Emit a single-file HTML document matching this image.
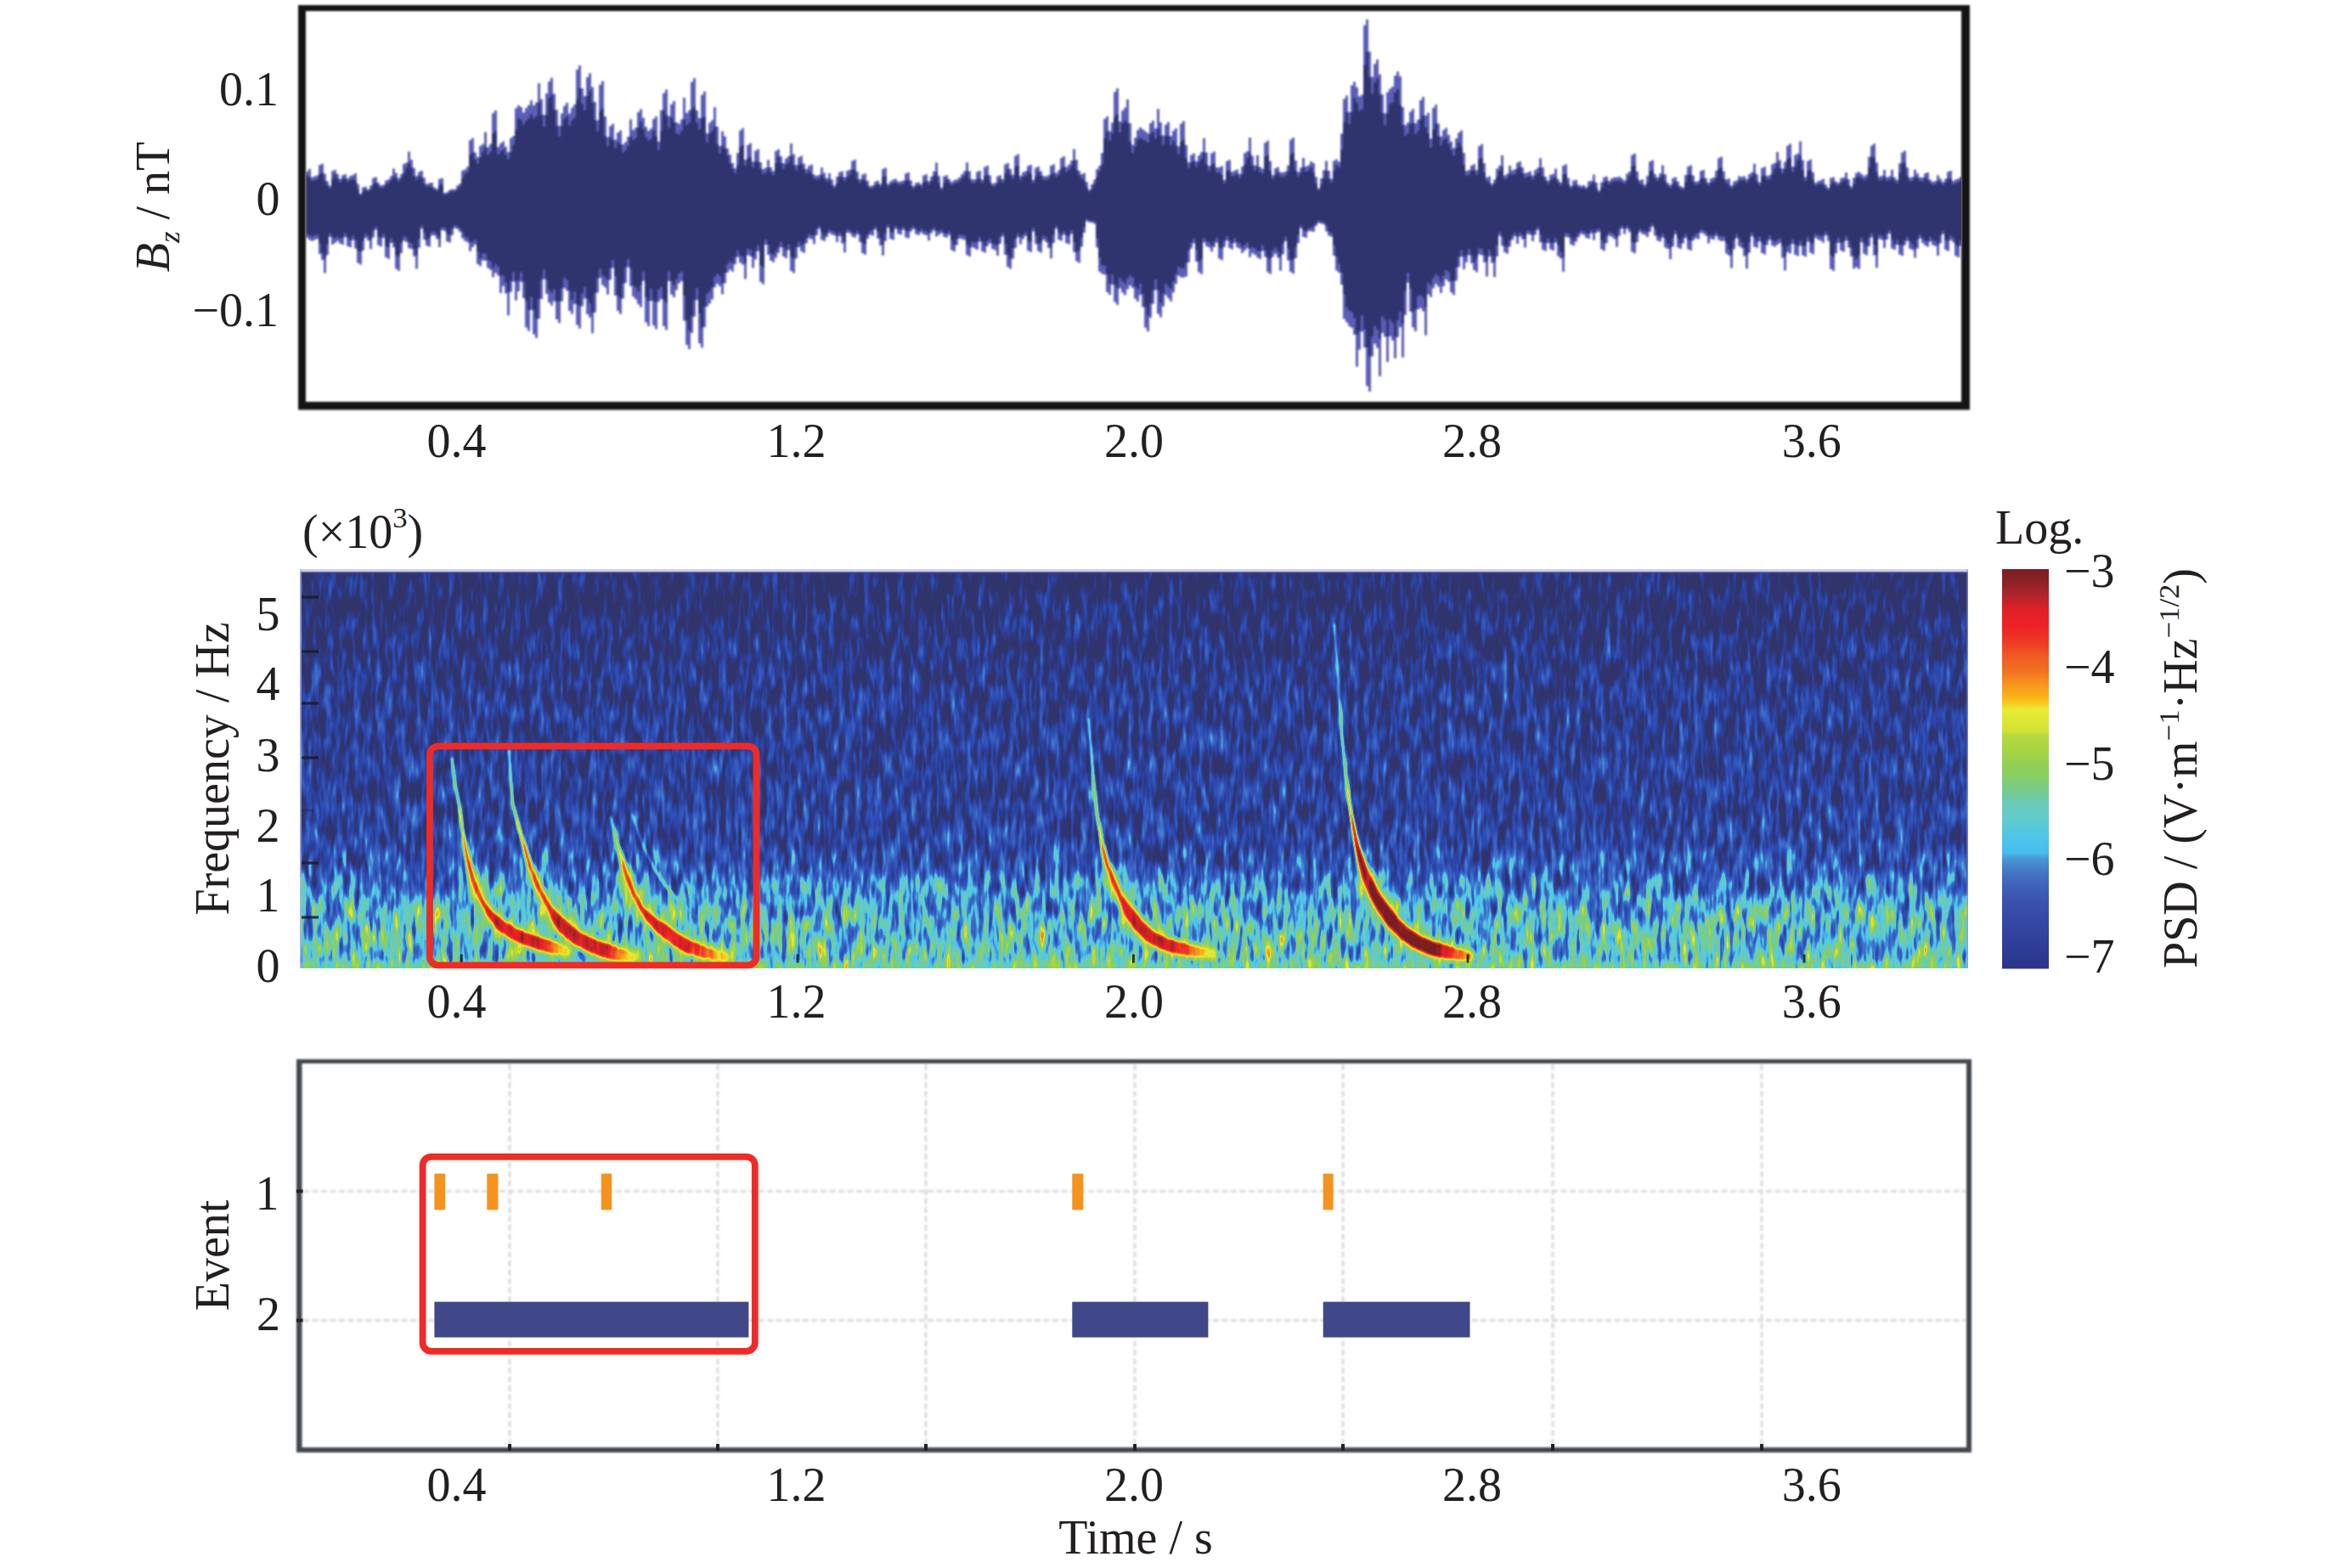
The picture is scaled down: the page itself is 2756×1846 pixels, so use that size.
<!DOCTYPE html>
<html lang="en"><head><meta charset="utf-8"><title>Whistler detection figure</title>
<style>html,body{margin:0;padding:0;background:#fff}body{width:2756px;height:1846px;overflow:hidden}svg{display:block}text{font-family:"Liberation Serif", "DejaVu Serif", serif;fill:#231f20}</style></head><body>
<svg width="2756" height="1846" viewBox="0 0 2756 1846">
<defs>
<clipPath id="c1"><rect x="360" y="13" width="1949" height="460"/></clipPath>
<clipPath id="c2"><rect x="353" y="670" width="1964" height="470"/></clipPath>
<linearGradient id="gprof" x1="0" y1="0" x2="0" y2="1">
<stop offset="0" stop-color="rgb(0,48,0)"/>
<stop offset="0.1" stop-color="rgb(5,56,0)"/>
<stop offset="0.28" stop-color="rgb(16,60,0)"/>
<stop offset="0.49" stop-color="rgb(21,60,0)"/>
<stop offset="0.66" stop-color="rgb(25,66,0)"/>
<stop offset="0.74" stop-color="rgb(38,78,0)"/>
<stop offset="0.8" stop-color="rgb(65,89,0)"/>
<stop offset="0.87" stop-color="rgb(87,92,0)"/>
<stop offset="0.975" stop-color="rgb(95,92,0)"/>
<stop offset="0.985" stop-color="rgb(109,78,0)"/>
<stop offset="1" stop-color="rgb(117,68,0)"/>
</linearGradient>
<linearGradient id="gcb" x1="0" y1="1" x2="0" y2="0">
<stop offset="0.0" stop-color="#2a3488"/>
<stop offset="0.05" stop-color="#2e3c98"/>
<stop offset="0.107" stop-color="#3446a3"/>
<stop offset="0.162" stop-color="#3a50ad"/>
<stop offset="0.205" stop-color="#3f5fb8"/>
<stop offset="0.243" stop-color="#4477c6"/>
<stop offset="0.275" stop-color="#4a96d6"/>
<stop offset="0.29" stop-color="#45bdee"/>
<stop offset="0.324" stop-color="#4dc4ea"/>
<stop offset="0.379" stop-color="#62cccb"/>
<stop offset="0.42" stop-color="#6ccbb4"/>
<stop offset="0.433" stop-color="#6fcb9a"/>
<stop offset="0.464" stop-color="#7fcb7a"/>
<stop offset="0.487" stop-color="#8acf60"/>
<stop offset="0.506" stop-color="#8fcf58"/>
<stop offset="0.541" stop-color="#a5d444"/>
<stop offset="0.583" stop-color="#b5d93f"/>
<stop offset="0.596" stop-color="#d3e236"/>
<stop offset="0.61" stop-color="#d9e535"/>
<stop offset="0.648" stop-color="#e8eb35"/>
<stop offset="0.665" stop-color="#f5c91f"/>
<stop offset="0.681" stop-color="#fbb116"/>
<stop offset="0.713" stop-color="#f7941d"/>
<stop offset="0.745" stop-color="#f37021"/>
<stop offset="0.783" stop-color="#f05a24"/>
<stop offset="0.817" stop-color="#ee3a24"/>
<stop offset="0.854" stop-color="#ec2427"/>
<stop offset="0.898" stop-color="#e31f26"/>
<stop offset="0.936" stop-color="#b0242b"/>
<stop offset="0.968" stop-color="#8b2227"/>
<stop offset="1.0" stop-color="#7a1e22"/>
</linearGradient>
<filter id="spec" x="0" y="0" width="1" height="1" filterUnits="objectBoundingBox" color-interpolation-filters="sRGB">
<feTurbulence type="fractalNoise" baseFrequency="0.125 0.036" numOctaves="2" seed="11" result="t1"/>
<feColorMatrix in="t1" type="matrix" values="1 0 0 0 0  1 0 0 0 0  1 0 0 0 0  0 0 0 0 1" result="n1"/>
<feTurbulence type="fractalNoise" baseFrequency="0.165 0.0283" numOctaves="2" seed="4" result="t2"/>
<feColorMatrix in="t2" type="matrix" values="0 1 0 0 0  0 1 0 0 0  0 1 0 0 0  0 0 0 0 1" result="n2"/>
<feComposite in="n1" in2="n2" operator="arithmetic" k1="0" k2="0.5" k3="0.5" k4="0" result="n"/>
<feColorMatrix in="SourceGraphic" type="matrix" values="1 0 0 0 0  1 0 0 0 0  1 0 0 0 0  0 0 0 0 1" result="base"/>
<feColorMatrix in="SourceGraphic" type="matrix" values="0 1 0 0 0  0 1 0 0 0  0 1 0 0 0  0 0 0 0 1" result="amp"/>
<feComposite in="amp" in2="n" operator="arithmetic" k1="3.4" k2="-1.7" k3="0" k4="0.5" result="d"/>
<feComposite in="base" in2="d" operator="arithmetic" k1="0" k2="1" k3="1" k4="-0.5" result="i"/>
<feComponentTransfer in="i">
<feFuncR type="table" tableValues="0.192 0.187 0.183 0.178 0.173 0.169 0.176 0.184 0.192 0.205 0.218 0.231 0.242 0.253 0.263 0.271 0.298 0.326 0.356 0.385 0.404 0.424 0.449 0.490 0.528 0.555 0.595 0.645 0.675 0.705 0.834 0.866 0.897 0.946 0.983 0.975 0.965 0.955 0.948 0.942 0.937 0.933 0.928 0.921 0.905 0.880 0.774 0.672 0.581 0.520 0.478"/>
<feFuncG type="table" tableValues="0.204 0.213 0.223 0.235 0.251 0.267 0.285 0.303 0.322 0.348 0.374 0.400 0.441 0.482 0.554 0.659 0.765 0.778 0.789 0.800 0.798 0.796 0.796 0.796 0.807 0.812 0.820 0.831 0.840 0.850 0.890 0.904 0.917 0.827 0.700 0.627 0.550 0.461 0.405 0.360 0.290 0.220 0.174 0.139 0.130 0.123 0.133 0.140 0.135 0.127 0.118"/>
<feFuncB type="table" tableValues="0.420 0.460 0.501 0.546 0.595 0.643 0.669 0.695 0.722 0.737 0.753 0.769 0.786 0.803 0.839 0.894 0.919 0.882 0.838 0.794 0.750 0.706 0.576 0.495 0.408 0.355 0.314 0.269 0.258 0.248 0.211 0.208 0.208 0.147 0.088 0.103 0.117 0.127 0.134 0.140 0.141 0.142 0.148 0.152 0.151 0.150 0.160 0.167 0.157 0.146 0.133"/>
<feFuncA type="linear" slope="0" intercept="1"/>
</feComponentTransfer></filter>
<filter id="wb" x="-5%" y="-5%" width="110%" height="110%" color-interpolation-filters="sRGB"><feGaussianBlur stdDeviation="1.6"/></filter>
<filter id="wb2" x="-5%" y="-80%" width="110%" height="260%" color-interpolation-filters="sRGB"><feGaussianBlur stdDeviation="7"/></filter>
<filter id="soft" color-interpolation-filters="sRGB"><feGaussianBlur stdDeviation="0.9"/></filter>
</defs>
<rect width="2756" height="1846" fill="#fff"/>
<g clip-path="url(#c1)" filter="url(#soft)">
<path d="M360,243V201.7H363V198.7H366V208.7H369V207.6H372V206.4H375V194.2H378V192.7H381V204.4H384V213.3H387V218.5H390V201.2H393V199.9H396V204.8H399V210.5H402V206.3H405V205.2H408V210H411V207.2H414V206.1H417V203.9H420V216.6H423V227.9H426V220.4H429V219.7H432V222.9H435V218.4H438V209.5H441V208.5H444V214.9H447V218.2H450V217.4H453V212.5H456V211.2H459V207.3H462V198.4H465V203.7H468V209.5H471V205.1H474V193.1H477V191.4H480V178.4H483V188H486V197.8H489V207.1H492V202.2H495V201H498V209.2H501V216.4H504V215.6H507V214.9H510V220.6H513V222.2H516V210.8H519V209.8H522V227.1H525V226.2H528V223.4H531V222.8H534V223H537V218.4H540V216H543V200.8H546V199.5H549V196.2H552V165H555V162.6H558V179.5H561V185H564V171.7H567V169.5H570V155.6H573V173.2H576V169.5H579V133.3H582V130H585V173H588V168.7H591V166.4H594V172.7H597V179H600V162.6H603V160.1H606V127.6H609V124.1H612V126.1H615V132.4H618V127.3H621V123.7H624V118.3H627V124.1H630V120.4H633V98H636V116.8H639V135.2H642V109.9H645V96.1H648V91.6H651V110.5H654V129.3H657V148.2H660V133.6H663V124.8H666V121.1H669V133.6H672V126.7H675V123.1H678V81.9H681V77H684V104H687V112.9H690V91H693V86.3H696V102.5H699V119.9H702V141.4H705V99.8H708V95.4H711V137.1H714V161.3H717V148.6H720V145.7H723V164.4H726V156.1H729V153.5H732V169.9H735V167.2H738V160.9H741V140.4H744V153.1H747V150.3H750V132H753V128.5H756V138.8H759V149.3H762V154.1H765V151.3H768V140.1H771V136.9H774V166.6H777V129.7H780V109.7H783V105.5H786V136.6H789V122.8H792V119.1H795V144H798V145.8H801V140.6H804V115H807V133.1H810V129.7H813V96.5H816V92H819V130.1H822V138.9H825V111.8H828V107.7H831V156.9H834V144.4H837V141.4H840V126.2H843V148.9H846V171.7H849V154.6H852V160.4H855V174.7H858V182.1H861V192H864V198.2H867V180.1H870V153.5H873V150.7H876V188H879V170.8H882V168.6H885V190.2H888V177.5H891V175.4H894V191.1H897V199H900V197.6H903V188.3H906V197H909V201.2H912V177.8H915V175.8H918V184H921V192.1H924V186.4H927V183.7H930V168.8H933V181.5H936V194.3H939V185.3H942V183.5H945V192.8H948V199.1H951V195.2H954V193.8H957V205.4H960V206.9H963V205.8H966V197.3H969V203.5H972V209.8H975V204.1H978V211.3H981V218.3H984V208.1H987V202.8H990V201.6H993V208.4H996V201.1H999V199.8H1002V189.5H1005V187.9H1008V202.2H1011V211.1H1014V205.4H1017V204.2H1020V212.8H1023V219H1026V218.3H1029V213.7H1032V212.8H1035V216.5H1038V198.9H1041V197.6H1044V216.4H1047V213.4H1050V211.4H1053V210.5H1056V213.8H1059V213.5H1062V212.6H1065V204.3H1068V203.1H1071V212.5H1074V219.1H1077V215.2H1080V214.4H1083V216.7H1086V206.4H1089V205.3H1092V213.2H1095V207.7H1098V201.8H1101V191.4H1104V207.3H1107V220.7H1110V207.4H1113V206.3H1116V210.7H1119V214.3H1122V212.1H1125V211.2H1128V209H1131V205.3H1134V201.6H1137V191.3H1140V201.4H1143V211H1146V211.2H1149V202.2H1152V200.9H1155V211.5H1158V196.6H1161V195.1H1164V206.6H1167V216.2H1170V215.3H1173V207.4H1176V206.3H1179V211.1H1182V193.5H1185V192H1188V198.9H1191V205.8H1194V183.4H1197V181.5H1200V207H1203V202.7H1206V201.4H1209V195.3H1212V193.9H1215V211.8H1218V197.5H1221V196.1H1224V201.6H1227V207.1H1230V207.4H1233V206.3H1236V194.9H1239V193.4H1242V203.7H1245V200.5H1248V185.9H1251V184.1H1254V196.4H1257V193.7H1260V188.9H1263V175.4H1266V188.1H1269V200.9H1272V204.9H1275V203.7H1278V214.3H1281V223.2H1284V216.9H1287V211.5H1290V199.2H1293V194.9H1296V179.9H1299V140.1H1302V136.9H1305V154.3H1308V144.3H1311V108.2H1314V104H1317V142.9H1320V130.3H1323V126.8H1326V117H1329V145.1H1332V170.5H1335V162H1338V152.9H1341V150.1H1344V152.3H1347V154.6H1350V156.9H1353V145.1H1356V142H1359V151.2H1362V128.3H1365V144H1368V159.4H1371V146.7H1374V143.8H1377V160.1H1380V153.8H1383V151H1386V172.2H1389V145.6H1392V142.5H1395V170.7H1398V191.2H1401V182.4H1404V180.5H1407V189.7H1410V183.1H1413V178.9H1416V162.8H1419V179.6H1422V195.2H1425V180.5H1428V178.6H1431V197.3H1434V196.9H1437V195.4H1440V211.7H1443V189.8H1446V188.2H1449V202.4H1452V200.7H1455V199.4H1458V204.8H1461V196H1464V180.2H1467V178.1H1470V161.9H1473V183.5H1476V194.8H1479V182.8H1482V196.4H1485V198.8H1488V167.9H1491V165.5H1494V189.4H1497V206.2H1500V198.2H1503V196.8H1506V202.8H1509V203H1512V201.8H1515V194.8H1518V164.4H1521V161.9H1524V189.1H1527V202.4H1530V197.3H1533V185.9H1536V195.9H1539V194.4H1542V190H1545V192.1H1548V208.3H1551V221.4H1554V210.1H1557V200.2H1560V189.5H1563V200.9H1566V210.5H1569V189.3H1572V187.6H1575V190.4H1578V157.3H1581V116.5H1584V112.6H1587V131.9H1590V100.6H1593V96.2H1596V102.7H1599V113.4H1602V111.4H1605V29.7H1608V23.1H1611V60.8H1614V90.4H1617V75.3H1620V70.1H1623V87.4H1626V111.3H1629V133.2H1632V108.6H1635V104.5H1638V102.1H1641V89.1H1644V84.3H1647V89.8H1650V126H1653V147.3H1656V144.3H1659V131.6H1662V128.2H1665V145.1H1668V140.7H1671V117.9H1674V114H1677V136.1H1680V132.8H1683V163.2H1686V126.9H1689V123.3H1692V145.4H1695V160.4H1698V153.1H1701V150.4H1704V158.7H1707V166.6H1710V174.2H1713V162.9H1716V156.3H1719V153.6H1722V180H1725V201.2H1728V199.9H1731V194.8H1734V193.3H1737V200.3H1740V171.9H1743V169.7H1746V191.9H1749V208.7H1752V207.6H1755V216.2H1758V211.6H1761V198.4H1764V194.9H1767V182.8H1770V206.5H1773V204.5H1776V194.9H1779V200.5H1782V199.2H1785V191.5H1788V189.9H1791V196.9H1794V204.1H1797V202.9H1800V201.7H1803V206.6H1806V200.1H1809V197.5H1812V186.2H1815V197.2H1818V208.1H1821V212.6H1824V205.8H1827V204.7H1830V198.6H1833V210.9H1836V214.7H1839V195H1842V193.6H1845V209.6H1848V218.8H1851V212.6H1854V211.7H1857V217.6H1860V218.7H1863V218H1866V220.2H1869V213.6H1872V212.7H1875V205.6H1878V215.1H1881V224.2H1884V214.6H1887V208.7H1890V207.7H1893V213H1896V209.9H1899V208.8H1902V208.8H1905V207.8H1908V210.1H1911V212.4H1914V204.4H1917V202H1920V182.6H1923V180.7H1926V201.8H1929V212.2H1932V211.3H1935V217.6H1938V207H1941V190.2H1944V188.5H1947V205H1950V208.7H1953V204.3H1956V194.6H1959V205.3H1962V215.2H1965V217.6H1968V209.7H1971V208.6H1974V213.7H1977V219H1980V220.5H1983V206H1986V195.9H1989V194.5H1992V206.8H1995V214H1998V213.1H2001V201.2H2004V199.9H2007V209.7H2010V214.9H2013V210.1H2016V209.1H2019V201H2022V186.3H2025V184.6H2028V201.8H2031V211.2H2034V210.2H2037V218.5H2040V213.5H2043V212.6H2046V207.2H2049V208.3H2052V207.2H2055V210.8H2058V205H2061V202.8H2064V192.7H2067V205.2H2070V214.5H2073V197.7H2076V196.3H2079V206.9H2082V206.1H2085V193.6H2088V191.8H2091V179H2094V188.6H2097V198.4H2100V190.4H2103V171.5H2106V169.3H2109V196.3H2112V182.5H2115V180.7H2118V166.4H2121V188.5H2124V208.3H2127V189.4H2130V187.7H2133V202.8H2136V215.2H2139V213.2H2142V212.3H2145V210.5H2148V217.3H2151V221.1H2154V209.6H2157V208.6H2160V213.8H2163V215H2166V209.7H2169V208.7H2172V203H2175V211H2178V219.4H2181V209.2H2184V203.4H2187V202.2H2190V204.7H2193V207.3H2196V205.4H2199V184.4H2202V171.5H2205V169.3H2208V191.5H2211V207.8H2214V206.7H2217V199.9H2220V208.6H2223V207.6H2226V199.7H2229V208.7H2232V211.8H2235V192.2H2238V179.4H2241V177.4H2244V197.2H2247V209.3H2250V208.3H2253V199.8H2256V204.3H2259V208.8H2262V209.1H2265V204.1H2268V202.9H2271V211.5H2274V214H2277V213.1H2280V206.2H2283V210.2H2286V214.2H2289V210.5H2292V202.2H2295V201H2298V213.1H2301V211.2H2304V210.2H2307V208.1H2310V243V288.9H2307V303.1H2304V301.3H2301V285.3H2298V282.7H2295V295.4H2292V293.9H2289V275.8H2286V286.5H2283V300.9H2280V289.8H2277V288.4H2274V284.5H2271V290.5H2268V289.1H2265V286H2262V280.8H2259V292.4H2256V303.5H2253V294.2H2250V292.7H2247V283.8H2244V288.7H2241V301.3H2238V299.5H2235V288.3H2232V294.1H2229V292.6H2226V275.1H2223V282.1H2220V291.9H2217V282.5H2214V281.3H2211V315.3H2208V300.8H2205V279.5H2202V290H2199V300.4H2196V298.7H2193V285.3H2190V316.8H2187V314.6H2184V316.3H2181V301.7H2178V291.5H2175V283.2H2172V296.5H2169V294.9H2166V285.7H2163V298.3H2160V319H2157V316.7H2154V283.8H2151V277.3H2148V285.7H2145V283.4H2142V282.2H2139V280H2136V299.2H2133V297.6H2130V284.5H2127V302.3H2124V300.5H2121V289.6H2118V301.6H2115V299.9H2112V287.3H2109V298.6H2106V296.9H2103V318.5H2100V303.4H2097V285.9H2094V288.2H2091V290.5H2088V289.1H2085V282.5H2082V288.2H2079V299.6H2076V297.9H2073V284.2H2070V291.8H2067V290.4H2064V278.3H2061V297.4H2058V316.3H2055V301.6H2052V291.9H2049V289.8H2046V280.4H2043V293.3H2040V315.6H2037V301.1H2034V298.4H2031V283.6H2028V283.9H2025V282.6H2022V277.9H2019V282.3H2016V281.2H2013V286.4H2010V277.8H2007V275.2H2004V273.9H2001V281.6H1998V280.4H1995V283.1H1992V295.1H1989V293.5H1986V280H1983V286.5H1980V292.9H1977V291.5H1974V275.9H1971V290.3H1968V305.2H1965V293H1962V291.5H1959V279.8H1956V284.4H1953V283.2H1950V277.4H1947V266.9H1944V273H1941V279H1938V276.6H1935V275.6H1932V273.3H1929V285.1H1926V298.2H1923V296.5H1920V273.3H1917V269.6H1914V275.4H1911V268.9H1908V277.4H1905V290.7H1902V281.2H1899V278.8H1896V277.4H1893V286.2H1890V295.2H1887V293.6H1884V273H1881V274H1878V282.7H1875V274.8H1872V281H1869V279.9H1866V276.6H1863V275.6H1860V279.3H1857V284.4H1854V289.2H1851V287.8H1848V279.8H1845V278.7H1842V319.9H1839V304.5H1836V301.8H1833V285.8H1830V295.1H1827V293.5H1824V286.1H1821V295.5H1818V293.9H1815V285.3H1812V270.8H1809V276.5H1806V284.1H1803V276.6H1800V275.6H1797V291.4H1794V281.7H1791V278.5H1788V287.1H1785V278.3H1782V282.4H1779V290.5H1776V298.7H1773V297H1770V289.5H1767V277.8H1764V301.9H1761V326.2H1758V309.6H1755V302.1H1752V325.4H1749V309H1746V300.6H1743V299.6H1740V320.5H1737V318.1H1734V310H1731V300.4H1728V308.7H1725V317.1H1722V302.3H1719V314.6H1716V330.4H1713V347.3H1710V344.2H1707V331.8H1704V329.1H1701V336.9H1698V344.9H1695V337.4H1692V334.6H1689V339.5H1686V349.7H1683V346.5H1680V394.8H1677V366.5H1674V362.8H1671V364.2H1668V389.9H1665V385.5H1662V366.9H1659V332.7H1656V370.8H1653V420.7H1650V385.2H1647V396.9H1644V421.7H1641V400.7H1638V395.9H1635V426H1632V396.5H1629V391.9H1626V443H1623V409.7H1620V404.7H1617V419.6H1614V461.1H1611V454.5H1608V409.2H1605V390.5H1602V411.4H1599V431.7H1596V393.9H1593V385.9H1590V384.1H1587V379.5H1584V375.4H1581V335.2H1578V320.9H1575V318.6H1572V301.1H1569V278.7H1566V277.6H1563V272.5H1560V264.3H1557V263.6H1554V262.4H1551V266.1H1548V273H1545V272.1H1542V272.5H1539V280.1H1536V279H1533V268.7H1530V286.2H1527V304H1524V322.3H1521V319.9H1518V306.5H1515V284.1H1512V299.2H1509V318.7H1506V303.6H1503V298.8H1500V302.4H1497V322.6H1494V320.2H1491V302.5H1488V295.6H1485V305.1H1482V303.3H1479V300H1476V298.3H1473V302.7H1470V292.2H1467V295.1H1464V298H1461V292.7H1458V291.2H1455V286.1H1452V293.6H1449V292.1H1446V283.2H1443V290.7H1440V306.3H1437V304.4H1434V285.7H1431V291H1428V296.3H1425V291.6H1422V290.1H1419V285.6H1416V322.8H1413V320.4H1410V308H1407V286.5H1404V292.6H1401V308.9H1398V325.5H1395V326.8H1392V326.6H1389V324.7H1386V334.2H1383V344.2H1380V354.7H1377V351.3H1374V347.6H1371V360.8H1368V373.4H1365V369.5H1362V341.6H1359V357.7H1356V373.9H1353V390.3H1350V385.8H1347V361.4H1344V347.2H1341V355.1H1338V351.7H1335V339.1H1332V336.2H1329V340.4H1326V347.5H1323V344.4H1320V339.6H1317V359H1314V355.5H1311V335.2H1308V347H1305V343.9H1302V323.2H1299V322.5H1296V320.1H1293V291.2H1290V263.4H1287V262.2H1284V261.8H1281V260.4H1278V274.1H1275V290.5H1272V309.6H1269V307.6H1266V296.7H1263V275.5H1260V287.6H1257V286.3H1254V276.2H1251V283.5H1248V282.3H1245V269.3H1242V286.1H1239V304.3H1236V292.1H1233V285H1230V282.5H1227V297.4H1224V295.8H1221V287.3H1218V272.4H1215V296.8H1212V295.2H1209V277.7H1206V281.6H1203V287.4H1200V279.5H1197V292H1194V304.4H1191V316.6H1188V314.3H1185V300.1H1182V278.6H1179V287.1H1176V300.9H1173V294.4H1170V292.9H1167V286.5H1164V289.8H1161V297.5H1158V295.9H1155V284.4H1152V294.1H1149V292.6H1146V291H1143V302.1H1140V300.3H1137V282.5H1134V281.3H1131V280.9H1128V288.6H1125V296.1H1122V294.5H1119V276.7H1116V279.8H1113V278.7H1110V274.6H1107V276.5H1104V278.5H1101V271.4H1098V274.4H1095V283.2H1092V277H1089V276H1086V273.8H1083V276.7H1080V275.7H1077V269.8H1074V272.6H1071V280.5H1068V279.4H1065V270.5H1062V276.3H1059V275.3H1056V269.4H1053V282.5H1050V281.3H1047V268.3H1044V283.8H1041V300.7H1038V289.1H1035V280.8H1032V270.2H1029V277.5H1026V276.5H1023V280.9H1020V299.7H1017V298H1014V285H1011V276H1008V279.7H1005V278.6H1002V274.8H999V273.9H996V297.3H993V286.4H990V278.1H987V284.9H984V277.3H981V276.3H978V274.4H975V279H972V283.7H969V282.5H966V269.5H963V277.1H960V287.3H957V281.8H954V280.6H951V286.6H948V297.7H945V296H942V290.9H939V304.2H936V321.5H933V319.1H930V294.6H927V304H924V302.1H921V291.2H918V297.8H915V303.5H912V308.7H909V306.7H906V300H903V287.9H900V334.8H897V332.1H894V295.7H891V305.6H888V315.4H885V301.9H882V300.2H879V328.6H876V311.5H873V309.5H870V302.8H867V311.2H864V319.8H861V317.5H858V321H855V333.4H852V346.5H849V337H846V334.2H843V338.3H840V352.5H837V357.6H834V361.1H831V385.3H828V409.2H825V404.2H822V353.3H819V372.8H816V392H813V410.9H810V405.9H807V377.5H804V331H801V333.8H798V341.5H795V350H792V346.8H789V331H786V388.4H783V384.1H780V352.1H777V355.2H774V387.6H771V383.3H768V354.3H765V383.9H762V379.6H759V330.8H756V361.8H753V358.2H750V352.4H747V349.2H744V336.9H741V314.5H738V333.2H735V351.6H732V369.7H729V365.9H726V348.1H723V315.4H720V329.5H717V346.8H714V338.6H711V335.7H708V327.2H705V344.4H702V368.1H699V392.2H696V373.8H693V369.9H690V351.5H687V360.5H684V386.7H681V382.4H678V357.9H675V369.8H672V366H669V342.3H666V339.3H663V354.8H660V380.2H657V376.1H654V354.8H651V359.8H648V356.3H645V346.1H642V328.7H639V352.1H636V375.3H633V398.1H630V393.5H627V365.1H624V389.8H621V385.4H618V351H615V331.8H612V342.9H609V353.8H606V331.6H603V343.8H600V371.2H597V345.6H594V336.7H591V345H588V324.6H585V321.2H582V326.4H579V317.7H576V315.5H573V307.1H570V306.4H567V313.2H564V311.1H561V287.9H558V291H555V295.8H552V285.2H549V283.8H546V280.6H543V273.1H540V269.7H537V268.5H534V276.8H531V285.6H528V284.4H525V271.9H522V271H519V291H516V281.4H513V277.3H510V277.3H507V290.6H504V289.2H501V282.3H498V269.2H495V291.8H492V316.6H489V301.8H486V293.1H483V292.3H480V284.9H477V283.6H474V298.1H471V318.9H468V316.6H465V291.2H462V286.1H459V304.8H456V303H453V280.1H450V290.2H447V288.8H444V270.4H441V279.4H438V293.3H435V283.3H432V280H429V295.1H426V311.5H423V309.5H420V292.5H417V282.7H414V291.3H411V289.9H408V279.3H405V288.1H402V286.8H399V283.7H396V285.9H393V288.1H390V279.1H387V300.2H384V321.6H381V305.9H378V298.9H375V281.2H372V282.5H369V283.8H366V282.5H363V280H360Z" fill="#4043ab" fill-opacity="0.86"/>
<path d="M360,243V207.1H363V208.5H366V213.1H369V212.2H372V211.1H375V204.9H378V203.8H381V212.9H384V218.5H387V221.7H390V210.4H393V205.5H396V210.5H399V214.7H402V211.1H405V210.1H408V214.2H411V211.8H414V210.9H417V212.5H420V222.4H423V229.8H426V225.4H429V222.9H432V225.5H435V222.9H438V216.9H441V214.9H444V218.6H447V221.4H450V220.7H453V217.4H456V215.3H459V212H462V207.3H465V209.5H468V213.8H471V210.1H474V204.1H477V198.1H480V191.4H483V197.8H486V207.1H489V211.8H492V207.5H495V209.2H498V216.4H501V219.9H504V219.1H507V220.6H510V223.5H513V224.9H516V217.9H519V217.1H522V229.2H525V228.4H528V226.2H531V225.5H534V225.6H537V223H540V219.5H543V210.1H546V205.1H549V202.3H552V182.1H555V179.5H558V187.7H561V192.5H564V185H567V179H570V173.2H573V182.3H576V179.1H579V157.5H582V154.8H585V182.1H588V178.4H591V176.4H594V181.9H597V187.3H600V179H603V170.8H606V153H609V139.5H612V141.3H615V146.7H618V142.3H621V139.2H624V134.5H627V139.6H630V136.4H633V120.4H636V135.2H639V149.2H642V135.2H645V115.2H648V111.2H651V129.3H654V148.2H657V160.6H660V148.2H663V140.1H666V137H669V147.8H672V141.8H675V138.7H678V117.4H681V104H684V122.1H687V129.8H690V112.9H693V106.7H696V120.8H699V141.4H702V154.6H705V131.3H708V127.8H711V160.4H714V171.9H717V161.3H720V164.4H723V174.6H726V167.4H729V169.9H732V179.4H735V177H738V171.6H741V160.9H744V164.8H747V162.4H750V150.3H753V143.4H756V152.3H759V161.5H762V165.6H765V163.2H768V153.4H771V160.2H774V176.5H777V154.6H780V129.7H783V135.8H786V150.4H789V138.5H792V144H795V156.8H798V158.4H801V153.9H804V140.6H807V147.4H810V144.4H813V128.7H816V125.2H819V144.8H822V152.4H825V138.9H828V137.5H831V168.1H834V157.3H837V154.6H840V148.9H843V169.6H846V181H849V171.7H852V174.7H855V183.6H858V192H861V198.6H864V204H867V193.9H870V173.2H873V171H876V195.1H879V186.7H882V185H885V197.1H888V190.2H891V190.3H894V199H897V204.7H900V203.5H903V197.6H906V203H909V206.6H912V192.2H915V184.5H918V192.1H921V198.7H924V193.7H927V191.4H930V183.7H933V194.3H936V200.6H939V194.3H942V192.8H945V199.3H948V204.8H951V201.4H954V204.6H957V210.3H960V211.6H963V210.7H966V205.8H969V209.8H972V214.1H975V211.3H978V218.2H981V221.5H984V215.8H987V208.1H990V208.4H993V212.9H996V208.4H999V205.4H1002V199.8H1005V200H1008V211.1H1011V215.2H1014V211.1H1017V212.8H1020V219H1023V222.2H1026V221.5H1029V218.3H1032V216.7H1035V219.9H1038V208.6H1041V207.6H1044V219.9H1047V217.3H1050V215.5H1053V214.7H1056V217.6H1059V217.3H1062V216.5H1065V212.6H1068V211.9H1071V219.1H1074V222.2H1077V219.1H1080V218.1H1083V220.2H1086V214.5H1089V213.2H1092V217.1H1095V213.2H1098V207.7H1101V202.8H1104V215.2H1107V223.6H1110V215.2H1113V211.1H1116V214.9H1119V218H1122V216.1H1125V215.3H1128V213.4H1131V210.2H1134V207H1137V201.6H1140V210.5H1143V215.2H1146V215.4H1149V211.2H1152V210.2H1155V215.6H1158V206.8H1161V205.7H1164V214.6H1167V219.6H1170V218.9H1173V215.2H1176V211.1H1179V215.2H1182V204.4H1185V198.9H1188V205.8H1191V210.6H1194V196.5H1197V195H1200V211.7H1203V207.9H1206V206.8H1209V201.5H1212V204.7H1215V215.8H1218V207.5H1221V202.2H1224V207.1H1227V211.7H1230V212H1233V211.1H1236V205.5H1239V203.7H1242V208.8H1245V206H1248V198.4H1251V196.4H1254V202.4H1257V200.1H1260V196H1263V188.9H1266V200.2H1269V206.4H1272V209.8H1275V212.4H1278V220.6H1281V225.8H1284V222.6H1287V216.9H1290V208.8H1293V201.2H1296V193.8H1299V162.8H1302V154.3H1305V165.8H1308V157.1H1311V137.8H1314V134.6H1317V155.9H1320V144.9H1323V141.9H1326V144.7H1329V166.6H1332V179.9H1335V172.6H1338V164.6H1341V162.2H1344V164.1H1347V166.1H1350V168.1H1353V157.8H1356V155.2H1359V163.2H1362V151.2H1365V159.4H1368V170.2H1371V159.4H1374V160.1H1377V170.9H1380V165.4H1383V171.3H1386V181.4H1389V167H1392V164.6H1395V186.6H1398V197.9H1401V191.2H1404V189.7H1407V196.6H1410V190.9H1413V187.2H1416V179.6H1419V193.6H1422V201.4H1425V194.3H1428V192.8H1431V203.2H1434V202.9H1437V205.9H1440V215.8H1443V201.5H1446V200.3H1449V207.7H1452V206.2H1455V205.1H1458V209.8H1461V204.8H1464V194H1467V186.6H1470V179.8H1473V194.8H1476V201.1H1479V196H1482V202.4H1485V204.6H1488V184.4H1491V182.6H1494V201.2H1497V211H1500V206.2H1503V202.8H1506V208H1509V208.2H1512V207.1H1515V201.8H1518V181.7H1521V179.8H1524V201H1527V207.7H1530V203.2H1533V197.3H1536V202H1539V200.7H1542V196.9H1545V203.3H1548V215.9H1551V224.2H1554V217.3H1557V209.6H1560V200.9H1563V210.2H1566V214.7H1569V201.1H1572V194.8H1575V197.3H1578V176.2H1581V144.3H1584V131.9H1587V146.3H1590V131.9H1593V115.3H1596V120.9H1599V130.3H1602V128.5H1605V76.6H1608V60.8H1611V90.4H1614V110.2H1617V97.1H1620V92.6H1623V111.3H1626V133.2H1629V147.5H1632V133.2H1635V122.5H1638V120.4H1641V109.1H1644V104.9H1647V123.5H1650V147.3H1653V159.7H1656V157.1H1659V146.1H1662V145.1H1665V157.8H1668V154H1671V140.7H1674V136.1H1677V150H1680V157.1H1683V173.6H1686V152.4H1689V145.4H1692V160.4H1695V171.2H1698V164.8H1701V162.4H1704V169.6H1707V176.5H1710V183.2H1713V174.2H1716V167.5H1719V173.3H1722V193.9H1725V206.7H1728V205.5H1731V201.1H1734V200.3H1737V205.8H1740V187.5H1743V185.8H1746V203.1H1749V213.2H1752V215.4H1755V219.7H1758V216.2H1761V208.2H1764V201.1H1767V196.1H1770V211.2H1773V209.5H1776V204.5H1779V206H1782V204.9H1785V199.2H1788V196.9H1791V204.1H1794V209.2H1797V208.1H1800V207.1H1803V211.3H1806V206.6H1809V203.4H1812V197.5H1815V207.3H1818V212.6H1821V216.6H1824V212.6H1827V209.7H1830V208.4H1833V215.1H1836V218.4H1839V205.6H1842V204.4H1845V217H1848V221.9H1851V218.8H1854V217.6H1857V220.9H1860V221.9H1863V221.2H1866V223.2H1869V220.1H1872V216.7H1875V213.9H1878V221.2H1881V226.6H1884V220.8H1887V214.6H1890V213H1893V216.9H1896V214.2H1899V213.3H1902V213.3H1905V212.4H1908V214.3H1911V216.4H1914V212.4H1917V207.3H1920V195.9H1923V194.4H1926V210.8H1929V216.2H1932V217.6H1935V220.9H1938V214.9H1941V201.8H1944V200.5H1947V210H1950V213.2H1953V209.3H1956V205.3H1959V213.6H1962V218.8H1965V220.9H1968V217H1971V213.7H1974V219H1977V222.1H1980V223.4H1983V214.2H1986V206H1989V205.2H1992V214H1995V217.8H1998V217H2001V210.4H2004V209.4H2007V214.9H2010V218.5H2013V214.9H2016V213.5H2019V209.1H2022V198.8H2025V197.4H2028V210.8H2031V215.3H2034V217.4H2037V221.7H2040V218.5H2043V216.6H2046V212.6H2049V212.8H2052V211.8H2055V215H2058V210.8H2061V208H2064V203.8H2067V213.5H2070V218.2H2073V207.6H2076V206.5H2079V211.6H2082V210.9H2085V204.5H2088V198.4H2091V191.8H2094V198.4H2097V204.2H2100V198.4H2103V187.2H2106V185.5H2109V202.4H2112V195.8H2115V188.8H2118V183.2H2121V200.5H2124V212.8H2127V201.2H2130V199.9H2133V211.6H2136V218.8H2139V217.1H2142V216.3H2145V217.3H2148V221.1H2151V223.9H2154V217H2157V213.8H2160V217.6H2163V218.6H2166V215H2169V213.1H2172V211H2175V218H2178V222.4H2181V216.6H2184V209.2H2187V207.5H2190V209.7H2193V212H2196V210.3H2199V197.3H2202V184.4H2205V185.5H2208V202.8H2211V212.4H2214V211.4H2217V208.6H2220V213.1H2223V212.2H2226V208.7H2229V213.1H2232V215.9H2235V203.4H2238V192.2H2241V191.8H2244V207.3H2247V213.7H2250V212.8H2253V208.3H2256V209.4H2259V213.2H2262V213.5H2265V209.1H2268V211.5H2271V215.6H2274V217.8H2277V217H2280V213.1H2283V214.5H2286V218H2289V214.7H2292V210.5H2295V210.2H2298V217H2301V215.4H2304V214.5H2307V212.7H2310V243V282.9H2307V289.9H2304V288.4H2301V279.8H2298V277.5H2295V283.9H2292V282.7H2289V271.5H2286V277H2283V288.2H2280V283.7H2277V282.5H2274V279.1H2271V284.3H2268V283.1H2265V280.4H2262V275.9H2259V281.6H2256V292.4H2253V287.6H2250V283.8H2247V278.5H2244V282.8H2241V288.7H2238V288.3H2235V282.4H2232V287.5H2229V281.7H2226V270.9H2223V275.1H2220V282.1H2217V277.4H2214V276.3H2211V299.4H2208V288.1H2205V274.7H2202V279.6H2199V290H2196V286.4H2193V279.8H2190V300.6H2187V305.3H2184V301.7H2181V291.5H2178V283.2H2175V278H2172V284.7H2169V285.7H2166V280.1H2163V286.1H2160V302.2H2157V300.5H2154V277.3H2151V272.8H2148V277.3H2145V278.1H2142V277.1H2139V275.2H2136V286.9H2133V285.6H2130V279.1H2127V289.2H2124V289.6H2121V283.5H2118V289.6H2115V287.4H2112V281.6H2109V287.3H2106V289.9H2103V301.9H2100V290.1H2097V280.4H2094V282.4H2091V284.3H2088V282.5H2085V277.4H2082V282.4H2079V288.2H2076V285.8H2073V278.8H2070V284.2H2067V280H2064V273.7H2061V285.4H2058V300.1H2055V291.9H2052V285.6H2049V280.4H2046V275.6H2043V282.2H2040V299.6H2037V293.5H2034V286.2H2031V278.3H2028V278.5H2025V277.5H2022V273.4H2019V277.2H2016V276.2H2013V277.8H2010V273.2H2007V271H2004V269.9H2001V273.9H1998V275.5H1995V277.9H1992V283.6H1989V282.4H1986V275.2H1983V280H1980V286.5H1977V280.8H1974V271.6H1971V279.9H1968V291.5H1965V286.5H1962V280.8H1959V275H1956V279H1953V277.4H1950V269.8H1947V263.8H1944V266.9H1941V273H1938V272.2H1935V271.3H1932V269.3H1929V275.9H1926V286H1923V284.7H1920V269.3H1917V266.1H1914V268.9H1911V265.5H1908V269.8H1905V280.2H1902V276.2H1899V274.2H1896V272.9H1893V277.4H1890V286.2H1887V282.5H1884V269.1H1881V269.9H1878V274H1875V270.7H1872V274.8H1869V275.1H1866V272.2H1863V271.4H1860V274.6H1857V279H1854V283.2H1851V279.8H1848V275H1845V274H1842V303H1839V296.5H1836V288.8H1833V280.2H1830V285.8H1827V286.1H1824V280.5H1821V286.1H1818V285.3H1815V276H1812V267.2H1809V270.8H1806V276.5H1803V272.2H1800V271.3H1797V280.8H1794V276.7H1791V273.9H1788V278.3H1785V273.7H1782V277.3H1779V282.4H1776V290.5H1773V289.5H1770V279.3H1767V273.3H1764V288.9H1761V307.9H1758V300.9H1755V294.4H1752V307.3H1749V300.4H1746V293.1H1743V292.2H1740V303.4H1737V308.4H1734V300.4H1731V293H1728V300.2H1725V302.3H1722V294.6H1719V302.3H1716V314.6H1713V330.4H1710V331H1707V320.2H1704V317.9H1701V324.7H1698V331.6H1695V325.2H1692V322.7H1689V327H1686V335.8H1683V333H1680V361.4H1677V350.5H1674V347.2H1671V348.4H1668V364.2H1665V366.9H1662V339.6H1659V321H1656V342.6H1653V381.6H1650V366.7H1647V376.9H1644V396.9H1641V380.2H1638V376.1H1635V395.9H1632V376.5H1629V372.5H1626V399H1623V388H1620V383.7H1617V396.6H1614V419.6H1611V409.2H1608V387.6H1605V371.3H1602V389.5H1599V393.9H1596V374.3H1593V367.4H1590V365.8H1587V361.8H1584V346.3H1581V320.9H1578V310.8H1575V302H1572V288.4H1569V274.1H1566V272.5H1563V266H1560V261.6H1557V260.9H1554V259.8H1551V262.4H1548V266.4H1545V268.3H1542V268.7H1539V272.5H1536V271.1H1533V265.4H1530V276.7H1527V290.6H1524V304.9H1521V306.5H1518V292.6H1515V278.7H1512V286.8H1509V302.1H1506V295.7H1503V291.5H1500V294.7H1497V305.1H1494V303.2H1491V294.8H1488V288.7H1485V295.6H1482V295.4H1479V292.6H1476V291.1H1473V292.2H1470V285.8H1467V288.4H1464V290.8H1461V286.2H1458V284.9H1455V280.5H1452V286.1H1449V283.2H1446V278H1443V283.2H1440V292.4H1437V290.9H1434V280.1H1431V284.7H1428V289.4H1425V285.3H1422V284H1419V280H1416V305.2H1413V308H1410V293.7H1407V280.8H1404V286.1H1401V294.4H1398V308.9H1395V315.9H1392V315.7H1389V314.1H1386V322.4H1383V331H1380V340.1H1377V337.2H1374V334H1371V345.4H1368V356.5H1365V341.7H1362V328.8H1359V341.6H1356V356.9H1353V371.1H1350V361.4H1347V346H1344V333.7H1341V340.5H1338V337.6H1335V326.6H1332V324.1H1329V327.7H1326V333.9H1323V331.2H1320V327H1317V339.6H1314V335.2H1311V323.2H1308V333.5H1305V323.2H1302V312.8H1299V312.2H1296V303.2H1293V280.6H1290V260.7H1287V259.7H1284V259.4H1281V258.1H1278V267.3H1275V280.1H1272V294.9H1269V296.7H1266V284.9H1263V271.3H1260V277.8H1257V276.8H1254V271.9H1251V276.2H1248V273.6H1245V265.8H1242V276.6H1239V290.8H1236V285H1233V279.5H1230V277.4H1227V285.5H1224V287.3H1221V277.6H1218V268.6H1215V285H1212V283.7H1209V273.2H1206V276.6H1203V279.5H1200V274.8H1197V281.2H1194V292H1191V304.4H1188V300.1H1185V287.5H1182V274H1179V278.6H1176V288.2H1173V287.8H1170V286.4H1167V280.8H1164V283.7H1161V289.8H1158V284.4H1155V279H1152V284.4H1149V286.1H1146V284.8H1143V291H1140V287.7H1137V277.4H1134V276.4H1131V276H1128V280.9H1125V288.6H1122V283.1H1119V272.3H1116V275H1113V274.1H1110V270.5H1107V272.2H1104V271.4H1101V267.7H1098V270.3H1095V274.4H1092V272.6H1089V271.7H1086V269.8H1083V272.3H1080V269.8H1077V266.3H1074V268.7H1071V272.6H1068V271.4H1065V266.9H1062V270.5H1059V269.4H1056V266H1053V273.8H1050V272.9H1047V265H1044V274.8H1041V288H1038V280.8H1035V272.5H1032V266.7H1029V270.2H1026V272.2H1023V276H1020V287.2H1017V285.9H1014V276H1011V271.7H1008V274.9H1005V273.9H1002V270.7H999V269.9H996V285.3H993V278.1H990V273.6H987V277.3H984V272.9H981V272H978V270.3H975V274.4H972V278.4H969V273.8H966V266.1H963V269.6H960V277.5H957V276.7H954V275.7H951V280.6H948V286.6H945V289.1H942V284.7H939V290.9H936V304.2H933V302.4H930V287.8H927V294.6H924V291.2H921V284.9H918V290.7H915V295.6H912V300.1H909V298.4H906V287.9H903V282H900V314.6H897V312.5H894V288.8H891V295.7H888V301.9H885V294.3H882V292.7H879V309.7H876V302.6H873V300.8H870V295H867V302.4H864V309.8H861V307.8H858V310.9H855V321H852V333.1H849V324.8H846V322.3H843V325.9H840V338.3H837V342.7H834V345.7H831V361.1H828V385.3H825V368.7H822V339H819V353.3H816V372.6H813V389.1H810V377.5H807V347.9H804V319.6H801V322H798V328.7H795V336.1H792V331H789V319.6H786V356.4H783V353H780V337.9H777V340.6H774V355.8H771V354.3H768V339.8H765V354.3H762V349.6H759V319.4H756V335.6H753V343.2H750V338.2H747V335.4H744V316.3H741V305.2H738V314.5H735V333.2H732V351.6H729V348.1H726V325H723V306H720V315.4H717V329.5H714V326.2H711V323.7H708V316.3H705V327.2H702V344.4H699V368.1H696V356.8H693V351.5H690V337.4H687V345.3H684V360.5H681V357.9H678V343H675V353.3H672V342.3H669V329.4H666V326.8H663V339.3H660V354.8H657V354.8H654V340.3H651V344.6H648V341.5H645V328.7H642V317.5H639V328.7H636V352.1H633V375.3H630V365.1H627V349.3H624V365.1H621V354H618V331.8H615V320.3H612V329.9H609V331.6H606V320.1H603V330.7H600V343.8H597V332.2H594V324.5H591V324.6H588V314H585V311H582V315.6H579V308H576V306H573V298.8H570V298.2H567V304.1H564V296.2H561V282H558V284.8H555V285.2H552V279.8H549V278.5H546V273.1H543V269.1H540V266.2H537V265.1H534V269.3H531V276.8H528V275.3H525V268.1H522V267.4H519V280.5H516V276.4H513V272.8H510V272.9H507V280.1H504V282.3H501V273.7H498V265.8H495V281.1H492V300.4H489V293.1H486V286.6H483V284.9H480V279.4H477V278.3H474V286H471V302.2H468V300.4H465V285H462V280.5H459V291.2H456V289.8H453V275.3H450V280.1H447V278.7H444V266.9H441V271.4H438V282.3H435V278H432V275.2H429V283.6H426V296.5H423V294.9H420V282.7H417V277.6H414V282.7H411V279.6H408V274.6H405V279.3H402V281.1H399V278.4H396V280.4H393V279.1H390V274.4H387V287.6H384V304.3H381V297.7H378V286.6H375V276.2H372V277.3H369V278.5H366V277.4H363V275.2H360Z" fill="#2f346e"/>
</g>
<g filter="url(#soft)"><path fill="#141414" fill-rule="evenodd" d="M351,6H2319V482.5H351Z M360,13H2309V473H360Z"/></g>
<text x="328" y="124" font-size="56" text-anchor="end">0.1</text>
<text x="329.5" y="253.3" font-size="56" text-anchor="end">0</text>
<text x="328" y="383.7" font-size="56" text-anchor="end">−0.1</text>
<text x="537.6" y="538.3" font-size="56" text-anchor="middle">0.4</text>
<text x="937.5" y="538.3" font-size="56" text-anchor="middle">1.2</text>
<text x="1335" y="538.3" font-size="56" text-anchor="middle">2.0</text>
<text x="1733" y="538.3" font-size="56" text-anchor="middle">2.8</text>
<text x="2132.7" y="538.3" font-size="56" text-anchor="middle">3.6</text>
<text transform="translate(199 243.5) rotate(-90)" font-size="56" text-anchor="middle"><tspan font-style="italic">B</tspan><tspan font-style="italic" font-size="34.7" dy="12">z</tspan><tspan dy="-12"> / nT</tspan></text>
<g clip-path="url(#c2)">
<g filter="url(#spec)">
<rect x="353" y="670" width="1964" height="470" fill="url(#gprof)"/>
<g filter="url(#wb2)" stroke-linecap="round" stroke-linejoin="round" fill="none" stroke="rgb(109,92,0)" stroke-width="30">
<polyline points="556.8,1035.4 561.2,1046.6 565.7,1057.8 572,1068.1 578.9,1077.9 587.2,1086.6 596.6,1094 606.9,1100.4 618,1104.9 629.3,1109 640.8,1112.7 652.4,1115.9 664.1,1119 668,1120"/>
<polyline points="630.7,1037 635.7,1048 641.3,1058.7 647.4,1069.2 653.7,1079.5 661.4,1088.8 670,1097.2 679.4,1104.7 690.3,1110.1 701.3,1114.9 712.7,1119.1 724.2,1122.8 736.1,1125 744,1126.5"/>
<polyline points="739.4,1035.6 743.9,1046.7 749,1057.7 754.6,1068.3 762.1,1077.7 770.5,1086.5 779.9,1093.9 789.4,1101.4 799.3,1108.2 809.7,1114.3 821,1118.4 832.5,1122 844.3,1124.8 856,1127.5 856,1127.5"/>
<polyline points="1310.2,1035.5 1314.9,1046.6 1319.9,1057.6 1325.8,1068 1332.2,1078.2 1339.4,1087.8 1347.8,1096.4 1356.8,1104.2 1367.5,1109.7 1378.9,1113.6 1390.5,1116.7 1402.2,1119.2 1414.1,1121.2 1426,1123 1426,1123"/>
<polyline points="1610.6,1037.2 1615.8,1048.2 1621.4,1058.8 1627.9,1069 1634.9,1078.8 1642.4,1088.3 1651.2,1096.5 1660.7,1103.9 1670.9,1110.3 1681.9,1115.2 1693.5,1118.5 1705.2,1121.4 1717.1,1123.7 1729,1125.5 1729,1125.5"/>
</g>
<g filter="url(#wb)" stroke-linecap="round" fill="none">
<line x1="545.7" y1="984.4" x2="546.3" y2="988.4" stroke="rgb(102,22,0)" stroke-width="3.9"/>
<line x1="546.3" y1="988.4" x2="547" y2="992.3" stroke="rgb(105,22,0)" stroke-width="4.6"/>
<line x1="547" y1="992.3" x2="547.6" y2="996.3" stroke="rgb(108,22,0)" stroke-width="5.4"/>
<line x1="547.6" y1="996.3" x2="548.3" y2="1000.3" stroke="rgb(111,22,0)" stroke-width="6.2"/>
<line x1="548.3" y1="1000.3" x2="548.9" y2="1004.2" stroke="rgb(113,22,0)" stroke-width="6.9"/>
<line x1="548.9" y1="1004.2" x2="549.5" y2="1008.2" stroke="rgb(116,22,0)" stroke-width="7.7"/>
<line x1="549.5" y1="1008.2" x2="550.3" y2="1012.1" stroke="rgb(119,22,0)" stroke-width="8.5"/>
<line x1="550.3" y1="1012.1" x2="551.4" y2="1016" stroke="rgb(121,22,0)" stroke-width="9.2"/>
<line x1="551.4" y1="1016" x2="552.5" y2="1019.9" stroke="rgb(124,22,0)" stroke-width="10"/>
<line x1="552.5" y1="1019.9" x2="553.6" y2="1023.8" stroke="rgb(127,22,0)" stroke-width="10.7"/>
<line x1="553.6" y1="1023.8" x2="554.7" y2="1027.6" stroke="rgb(129,22,0)" stroke-width="11.5"/>
<line x1="554.7" y1="1027.6" x2="555.7" y2="1031.5" stroke="rgb(132,22,0)" stroke-width="12.2"/>
<line x1="555.7" y1="1031.5" x2="556.8" y2="1035.4" stroke="rgb(134,22,0)" stroke-width="13"/>
<line x1="556.8" y1="1035.4" x2="558.2" y2="1039.1" stroke="rgb(137,22,0)" stroke-width="13.3"/>
<line x1="558.2" y1="1039.1" x2="559.7" y2="1042.9" stroke="rgb(140,22,0)" stroke-width="13.4"/>
<line x1="559.7" y1="1042.9" x2="561.2" y2="1046.6" stroke="rgb(142,22,0)" stroke-width="13.4"/>
<line x1="561.2" y1="1046.6" x2="562.7" y2="1050.3" stroke="rgb(142,22,0)" stroke-width="13.5"/>
<line x1="562.7" y1="1050.3" x2="564.2" y2="1054.1" stroke="rgb(142,22,0)" stroke-width="13.5"/>
<line x1="564.2" y1="1054.1" x2="565.7" y2="1057.8" stroke="rgb(142,22,0)" stroke-width="13.6"/>
<line x1="565.7" y1="1057.8" x2="567.7" y2="1061.3" stroke="rgb(142,22,0)" stroke-width="13.7"/>
<line x1="567.7" y1="1061.3" x2="569.8" y2="1064.7" stroke="rgb(142,22,0)" stroke-width="13.7"/>
<line x1="569.8" y1="1064.7" x2="572" y2="1068.1" stroke="rgb(142,22,0)" stroke-width="13.7"/>
<line x1="572" y1="1068.1" x2="574.1" y2="1071.5" stroke="rgb(142,22,0)" stroke-width="13.8"/>
<line x1="574.1" y1="1071.5" x2="576.3" y2="1074.9" stroke="rgb(142,22,0)" stroke-width="14.9"/>
<line x1="576.3" y1="1074.9" x2="578.9" y2="1077.9" stroke="rgb(142,22,0)" stroke-width="16.1"/>
<line x1="578.9" y1="1077.9" x2="581.6" y2="1080.8" stroke="rgb(142,22,0)" stroke-width="17.2"/>
<line x1="581.6" y1="1080.8" x2="584.4" y2="1083.7" stroke="rgb(142,22,0)" stroke-width="18.2"/>
<line x1="584.4" y1="1083.7" x2="587.2" y2="1086.6" stroke="rgb(142,22,0)" stroke-width="19.3"/>
<line x1="587.2" y1="1086.6" x2="590" y2="1089.5" stroke="rgb(142,22,0)" stroke-width="20.3"/>
<line x1="590" y1="1089.5" x2="593.2" y2="1091.9" stroke="rgb(142,22,0)" stroke-width="21.3"/>
<line x1="593.2" y1="1091.9" x2="596.6" y2="1094" stroke="rgb(142,22,0)" stroke-width="21.8"/>
<line x1="596.6" y1="1094" x2="600" y2="1096.2" stroke="rgb(142,22,0)" stroke-width="21.9"/>
<line x1="600" y1="1096.2" x2="603.4" y2="1098.3" stroke="rgb(142,22,0)" stroke-width="22"/>
<line x1="603.4" y1="1098.3" x2="606.9" y2="1100.4" stroke="rgb(142,22,0)" stroke-width="22.1"/>
<line x1="606.9" y1="1100.4" x2="610.6" y2="1101.9" stroke="rgb(142,22,0)" stroke-width="22.2"/>
<line x1="610.6" y1="1101.9" x2="614.3" y2="1103.4" stroke="rgb(142,22,0)" stroke-width="22.3"/>
<line x1="614.3" y1="1103.4" x2="618" y2="1104.9" stroke="rgb(142,22,0)" stroke-width="22.4"/>
<line x1="618" y1="1104.9" x2="621.7" y2="1106.5" stroke="rgb(142,22,0)" stroke-width="22.5"/>
<line x1="621.7" y1="1106.5" x2="625.5" y2="1107.8" stroke="rgb(142,22,0)" stroke-width="22.6"/>
<line x1="625.5" y1="1107.8" x2="629.3" y2="1109" stroke="rgb(142,22,0)" stroke-width="22.6"/>
<line x1="629.3" y1="1109" x2="633.2" y2="1110.2" stroke="rgb(142,22,0)" stroke-width="22.7"/>
<line x1="633.2" y1="1110.2" x2="637" y2="1111.5" stroke="rgb(142,22,0)" stroke-width="22.8"/>
<line x1="637" y1="1111.5" x2="640.8" y2="1112.7" stroke="rgb(142,22,0)" stroke-width="22.8"/>
<line x1="640.8" y1="1112.7" x2="644.7" y2="1113.9" stroke="rgb(142,22,0)" stroke-width="22.9"/>
<line x1="644.7" y1="1113.9" x2="648.6" y2="1114.9" stroke="rgb(142,22,0)" stroke-width="22.4"/>
<line x1="648.6" y1="1114.9" x2="652.4" y2="1115.9" stroke="rgb(142,22,0)" stroke-width="21.5"/>
<line x1="652.4" y1="1115.9" x2="656.3" y2="1117" stroke="rgb(142,22,0)" stroke-width="20.6"/>
<line x1="656.3" y1="1117" x2="660.2" y2="1118" stroke="rgb(142,22,0)" stroke-width="19.7"/>
<line x1="660.2" y1="1118" x2="664.1" y2="1119" stroke="rgb(142,22,0)" stroke-width="18.7"/>
<line x1="664.1" y1="1119" x2="668" y2="1120" stroke="rgb(142,22,0)" stroke-width="17.8"/>
<line x1="532" y1="893" x2="532.5" y2="897" stroke="rgb(139,22,0)" stroke-width="2.8"/>
<line x1="532.5" y1="897" x2="533" y2="901" stroke="rgb(142,22,0)" stroke-width="2.8"/>
<line x1="533" y1="901" x2="533.5" y2="905" stroke="rgb(145,22,0)" stroke-width="2.8"/>
<line x1="533.5" y1="905" x2="534" y2="909" stroke="rgb(148,22,0)" stroke-width="2.8"/>
<line x1="534" y1="909" x2="534.5" y2="912.9" stroke="rgb(151,22,0)" stroke-width="2.9"/>
<line x1="534.5" y1="912.9" x2="535" y2="916.9" stroke="rgb(154,22,0)" stroke-width="2.9"/>
<line x1="535" y1="916.9" x2="535.5" y2="920.9" stroke="rgb(158,22,0)" stroke-width="2.9"/>
<line x1="535.5" y1="920.9" x2="536" y2="924.9" stroke="rgb(161,22,0)" stroke-width="2.9"/>
<line x1="536" y1="924.9" x2="536.8" y2="928.9" stroke="rgb(164,22,0)" stroke-width="3"/>
<line x1="536.8" y1="928.9" x2="537.5" y2="932.8" stroke="rgb(167,22,0)" stroke-width="3"/>
<line x1="537.5" y1="932.8" x2="538.3" y2="936.7" stroke="rgb(171,22,0)" stroke-width="3"/>
<line x1="538.3" y1="936.7" x2="539.1" y2="940.7" stroke="rgb(174,22,0)" stroke-width="3"/>
<line x1="539.1" y1="940.7" x2="539.8" y2="944.6" stroke="rgb(177,22,0)" stroke-width="3.1"/>
<line x1="539.8" y1="944.6" x2="540.5" y2="948.6" stroke="rgb(180,22,0)" stroke-width="3.1"/>
<line x1="540.5" y1="948.6" x2="541.1" y2="952.6" stroke="rgb(183,22,0)" stroke-width="3.1"/>
<line x1="541.1" y1="952.6" x2="541.7" y2="956.6" stroke="rgb(186,22,0)" stroke-width="3.2"/>
<line x1="541.7" y1="956.6" x2="542.2" y2="960.5" stroke="rgb(188,22,0)" stroke-width="3.2"/>
<line x1="542.2" y1="960.5" x2="542.8" y2="964.5" stroke="rgb(191,22,0)" stroke-width="3.3"/>
<line x1="542.8" y1="964.5" x2="543.4" y2="968.5" stroke="rgb(193,22,0)" stroke-width="3.3"/>
<line x1="543.4" y1="968.5" x2="543.9" y2="972.5" stroke="rgb(196,22,0)" stroke-width="3.4"/>
<line x1="543.9" y1="972.5" x2="544.5" y2="976.4" stroke="rgb(198,22,0)" stroke-width="3.4"/>
<line x1="544.5" y1="976.4" x2="545.1" y2="980.4" stroke="rgb(201,22,0)" stroke-width="3.5"/>
<line x1="545.1" y1="980.4" x2="545.7" y2="984.4" stroke="rgb(203,22,0)" stroke-width="3.6"/>
<line x1="545.7" y1="984.4" x2="546.3" y2="988.4" stroke="rgb(205,22,0)" stroke-width="3.6"/>
<line x1="546.3" y1="988.4" x2="547" y2="992.3" stroke="rgb(208,22,0)" stroke-width="3.7"/>
<line x1="547" y1="992.3" x2="547.6" y2="996.3" stroke="rgb(210,22,0)" stroke-width="3.7"/>
<line x1="547.6" y1="996.3" x2="548.3" y2="1000.3" stroke="rgb(213,22,0)" stroke-width="3.8"/>
<line x1="548.3" y1="1000.3" x2="548.9" y2="1004.2" stroke="rgb(214,22,0)" stroke-width="3.8"/>
<line x1="548.9" y1="1004.2" x2="549.5" y2="1008.2" stroke="rgb(214,22,0)" stroke-width="3.9"/>
<line x1="549.5" y1="1008.2" x2="550.3" y2="1012.1" stroke="rgb(215,22,0)" stroke-width="3.9"/>
<line x1="550.3" y1="1012.1" x2="551.4" y2="1016" stroke="rgb(215,22,0)" stroke-width="4"/>
<line x1="551.4" y1="1016" x2="552.5" y2="1019.9" stroke="rgb(216,22,0)" stroke-width="4.1"/>
<line x1="552.5" y1="1019.9" x2="553.6" y2="1023.8" stroke="rgb(216,22,0)" stroke-width="4.1"/>
<line x1="553.6" y1="1023.8" x2="554.7" y2="1027.6" stroke="rgb(217,22,0)" stroke-width="4.2"/>
<line x1="554.7" y1="1027.6" x2="555.7" y2="1031.5" stroke="rgb(217,22,0)" stroke-width="4.2"/>
<line x1="555.7" y1="1031.5" x2="556.8" y2="1035.4" stroke="rgb(218,22,0)" stroke-width="4.3"/>
<line x1="556.8" y1="1035.4" x2="558.2" y2="1039.1" stroke="rgb(218,22,0)" stroke-width="4.3"/>
<line x1="558.2" y1="1039.1" x2="559.7" y2="1042.9" stroke="rgb(219,22,0)" stroke-width="4.4"/>
<line x1="559.7" y1="1042.9" x2="561.2" y2="1046.6" stroke="rgb(219,22,0)" stroke-width="4.4"/>
<line x1="561.2" y1="1046.6" x2="562.7" y2="1050.3" stroke="rgb(220,22,0)" stroke-width="4.5"/>
<line x1="562.7" y1="1050.3" x2="564.2" y2="1054.1" stroke="rgb(220,22,0)" stroke-width="4.5"/>
<line x1="564.2" y1="1054.1" x2="565.7" y2="1057.8" stroke="rgb(221,22,0)" stroke-width="4.6"/>
<line x1="565.7" y1="1057.8" x2="567.7" y2="1061.3" stroke="rgb(221,22,0)" stroke-width="4.7"/>
<line x1="567.7" y1="1061.3" x2="569.8" y2="1064.7" stroke="rgb(223,22,0)" stroke-width="4.7"/>
<line x1="569.8" y1="1064.7" x2="572" y2="1068.1" stroke="rgb(224,22,0)" stroke-width="4.7"/>
<line x1="572" y1="1068.1" x2="574.1" y2="1071.5" stroke="rgb(225,22,0)" stroke-width="4.8"/>
<line x1="574.1" y1="1071.5" x2="576.3" y2="1074.9" stroke="rgb(227,22,0)" stroke-width="5.9"/>
<line x1="576.3" y1="1074.9" x2="578.9" y2="1077.9" stroke="rgb(228,22,0)" stroke-width="7.1"/>
<line x1="578.9" y1="1077.9" x2="581.6" y2="1080.8" stroke="rgb(229,22,0)" stroke-width="8.2"/>
<line x1="581.6" y1="1080.8" x2="584.4" y2="1083.7" stroke="rgb(230,22,0)" stroke-width="9.2"/>
<line x1="584.4" y1="1083.7" x2="587.2" y2="1086.6" stroke="rgb(232,22,0)" stroke-width="10.3"/>
<line x1="587.2" y1="1086.6" x2="590" y2="1089.5" stroke="rgb(232,22,0)" stroke-width="11.3"/>
<line x1="590" y1="1089.5" x2="593.2" y2="1091.9" stroke="rgb(232,22,0)" stroke-width="12.3"/>
<line x1="593.2" y1="1091.9" x2="596.6" y2="1094" stroke="rgb(232,22,0)" stroke-width="12.8"/>
<line x1="596.6" y1="1094" x2="600" y2="1096.2" stroke="rgb(232,22,0)" stroke-width="12.9"/>
<line x1="600" y1="1096.2" x2="603.4" y2="1098.3" stroke="rgb(232,22,0)" stroke-width="13"/>
<line x1="603.4" y1="1098.3" x2="606.9" y2="1100.4" stroke="rgb(232,22,0)" stroke-width="13.1"/>
<line x1="606.9" y1="1100.4" x2="610.6" y2="1101.9" stroke="rgb(232,22,0)" stroke-width="13.2"/>
<line x1="610.6" y1="1101.9" x2="614.3" y2="1103.4" stroke="rgb(232,22,0)" stroke-width="13.3"/>
<line x1="614.3" y1="1103.4" x2="618" y2="1104.9" stroke="rgb(232,22,0)" stroke-width="13.4"/>
<line x1="618" y1="1104.9" x2="621.7" y2="1106.5" stroke="rgb(232,22,0)" stroke-width="13.5"/>
<line x1="621.7" y1="1106.5" x2="625.5" y2="1107.8" stroke="rgb(232,22,0)" stroke-width="13.6"/>
<line x1="625.5" y1="1107.8" x2="629.3" y2="1109" stroke="rgb(232,22,0)" stroke-width="13.6"/>
<line x1="629.3" y1="1109" x2="633.2" y2="1110.2" stroke="rgb(232,22,0)" stroke-width="13.7"/>
<line x1="633.2" y1="1110.2" x2="637" y2="1111.5" stroke="rgb(232,22,0)" stroke-width="13.8"/>
<line x1="637" y1="1111.5" x2="640.8" y2="1112.7" stroke="rgb(232,22,0)" stroke-width="13.8"/>
<line x1="640.8" y1="1112.7" x2="644.7" y2="1113.9" stroke="rgb(232,22,0)" stroke-width="13.9"/>
<line x1="644.7" y1="1113.9" x2="648.6" y2="1114.9" stroke="rgb(225,22,0)" stroke-width="13.4"/>
<line x1="648.6" y1="1114.9" x2="652.4" y2="1115.9" stroke="rgb(213,22,0)" stroke-width="12.5"/>
<line x1="652.4" y1="1115.9" x2="656.3" y2="1117" stroke="rgb(202,22,0)" stroke-width="11.6"/>
<line x1="656.3" y1="1117" x2="660.2" y2="1118" stroke="rgb(190,22,0)" stroke-width="10.7"/>
<line x1="660.2" y1="1118" x2="664.1" y2="1119" stroke="rgb(178,22,0)" stroke-width="9.7"/>
<line x1="664.1" y1="1119" x2="668" y2="1120" stroke="rgb(167,22,0)" stroke-width="8.8"/>
<line x1="613.5" y1="983.3" x2="614.6" y2="987.2" stroke="rgb(102,22,0)" stroke-width="3.6"/>
<line x1="614.6" y1="987.2" x2="615.8" y2="991.1" stroke="rgb(104,22,0)" stroke-width="4.4"/>
<line x1="615.8" y1="991.1" x2="617" y2="994.9" stroke="rgb(107,22,0)" stroke-width="5.1"/>
<line x1="617" y1="994.9" x2="618.1" y2="998.8" stroke="rgb(110,22,0)" stroke-width="5.9"/>
<line x1="618.1" y1="998.8" x2="619.1" y2="1002.7" stroke="rgb(112,22,0)" stroke-width="6.6"/>
<line x1="619.1" y1="1002.7" x2="620.2" y2="1006.5" stroke="rgb(115,22,0)" stroke-width="7.4"/>
<line x1="620.2" y1="1006.5" x2="621.3" y2="1010.4" stroke="rgb(117,22,0)" stroke-width="8.2"/>
<line x1="621.3" y1="1010.4" x2="622.4" y2="1014.3" stroke="rgb(120,22,0)" stroke-width="8.9"/>
<line x1="622.4" y1="1014.3" x2="623.5" y2="1018.2" stroke="rgb(123,22,0)" stroke-width="9.7"/>
<line x1="623.5" y1="1018.2" x2="624.8" y2="1022" stroke="rgb(125,22,0)" stroke-width="10.4"/>
<line x1="624.8" y1="1022" x2="626.3" y2="1025.7" stroke="rgb(128,22,0)" stroke-width="11.1"/>
<line x1="626.3" y1="1025.7" x2="627.8" y2="1029.5" stroke="rgb(130,22,0)" stroke-width="11.9"/>
<line x1="627.8" y1="1029.5" x2="629.3" y2="1033.2" stroke="rgb(133,22,0)" stroke-width="12.6"/>
<line x1="629.3" y1="1033.2" x2="630.7" y2="1037" stroke="rgb(136,22,0)" stroke-width="13.3"/>
<line x1="630.7" y1="1037" x2="632.2" y2="1040.7" stroke="rgb(138,22,0)" stroke-width="13.4"/>
<line x1="632.2" y1="1040.7" x2="633.9" y2="1044.4" stroke="rgb(141,22,0)" stroke-width="13.4"/>
<line x1="633.9" y1="1044.4" x2="635.7" y2="1048" stroke="rgb(142,22,0)" stroke-width="13.5"/>
<line x1="635.7" y1="1048" x2="637.6" y2="1051.6" stroke="rgb(142,22,0)" stroke-width="13.5"/>
<line x1="637.6" y1="1051.6" x2="639.4" y2="1055.1" stroke="rgb(142,22,0)" stroke-width="13.6"/>
<line x1="639.4" y1="1055.1" x2="641.3" y2="1058.7" stroke="rgb(142,22,0)" stroke-width="13.6"/>
<line x1="641.3" y1="1058.7" x2="643.2" y2="1062.3" stroke="rgb(142,22,0)" stroke-width="13.7"/>
<line x1="643.2" y1="1062.3" x2="645.3" y2="1065.7" stroke="rgb(142,22,0)" stroke-width="13.7"/>
<line x1="645.3" y1="1065.7" x2="647.4" y2="1069.2" stroke="rgb(142,22,0)" stroke-width="13.8"/>
<line x1="647.4" y1="1069.2" x2="649.5" y2="1072.6" stroke="rgb(142,22,0)" stroke-width="15"/>
<line x1="649.5" y1="1072.6" x2="651.6" y2="1076" stroke="rgb(142,22,0)" stroke-width="16.5"/>
<line x1="651.6" y1="1076" x2="653.7" y2="1079.5" stroke="rgb(142,22,0)" stroke-width="17.9"/>
<line x1="653.7" y1="1079.5" x2="656.2" y2="1082.6" stroke="rgb(142,22,0)" stroke-width="19.3"/>
<line x1="656.2" y1="1082.6" x2="658.8" y2="1085.7" stroke="rgb(142,22,0)" stroke-width="20.6"/>
<line x1="658.8" y1="1085.7" x2="661.4" y2="1088.8" stroke="rgb(142,22,0)" stroke-width="21.9"/>
<line x1="661.4" y1="1088.8" x2="663.9" y2="1091.9" stroke="rgb(142,22,0)" stroke-width="23.1"/>
<line x1="663.9" y1="1091.9" x2="667" y2="1094.6" stroke="rgb(142,22,0)" stroke-width="23.3"/>
<line x1="667" y1="1094.6" x2="670" y2="1097.2" stroke="rgb(142,22,0)" stroke-width="23.4"/>
<line x1="670" y1="1097.2" x2="673.1" y2="1099.8" stroke="rgb(142,22,0)" stroke-width="23.5"/>
<line x1="673.1" y1="1099.8" x2="676.2" y2="1102.4" stroke="rgb(142,22,0)" stroke-width="23.7"/>
<line x1="676.2" y1="1102.4" x2="679.4" y2="1104.7" stroke="rgb(142,22,0)" stroke-width="23.8"/>
<line x1="679.4" y1="1104.7" x2="683" y2="1106.5" stroke="rgb(142,22,0)" stroke-width="23.9"/>
<line x1="683" y1="1106.5" x2="686.6" y2="1108.3" stroke="rgb(142,22,0)" stroke-width="24"/>
<line x1="686.6" y1="1108.3" x2="690.3" y2="1110.1" stroke="rgb(142,22,0)" stroke-width="24.1"/>
<line x1="690.3" y1="1110.1" x2="693.9" y2="1111.9" stroke="rgb(142,22,0)" stroke-width="24.2"/>
<line x1="693.9" y1="1111.9" x2="697.6" y2="1113.4" stroke="rgb(142,22,0)" stroke-width="24.3"/>
<line x1="697.6" y1="1113.4" x2="701.3" y2="1114.9" stroke="rgb(142,22,0)" stroke-width="24.4"/>
<line x1="701.3" y1="1114.9" x2="705.1" y2="1116.4" stroke="rgb(142,22,0)" stroke-width="24.5"/>
<line x1="705.1" y1="1116.4" x2="708.8" y2="1117.9" stroke="rgb(142,22,0)" stroke-width="24.6"/>
<line x1="708.8" y1="1117.9" x2="712.7" y2="1119.1" stroke="rgb(142,22,0)" stroke-width="24.6"/>
<line x1="712.7" y1="1119.1" x2="716.5" y2="1120.3" stroke="rgb(142,22,0)" stroke-width="24.7"/>
<line x1="716.5" y1="1120.3" x2="720.4" y2="1121.5" stroke="rgb(142,22,0)" stroke-width="24.8"/>
<line x1="720.4" y1="1121.5" x2="724.2" y2="1122.8" stroke="rgb(142,22,0)" stroke-width="23.9"/>
<line x1="724.2" y1="1122.8" x2="728.1" y2="1123.6" stroke="rgb(142,22,0)" stroke-width="22.9"/>
<line x1="728.1" y1="1123.6" x2="732.1" y2="1124.3" stroke="rgb(142,22,0)" stroke-width="21.9"/>
<line x1="732.1" y1="1124.3" x2="736.1" y2="1125" stroke="rgb(142,22,0)" stroke-width="20.9"/>
<line x1="736.1" y1="1125" x2="740" y2="1125.8" stroke="rgb(142,22,0)" stroke-width="19.9"/>
<line x1="740" y1="1125.8" x2="744" y2="1126.5" stroke="rgb(142,22,0)" stroke-width="18.8"/>
<line x1="599" y1="884" x2="599.3" y2="888" stroke="rgb(134,22,0)" stroke-width="2.8"/>
<line x1="599.3" y1="888" x2="599.6" y2="892" stroke="rgb(136,22,0)" stroke-width="2.8"/>
<line x1="599.6" y1="892" x2="599.8" y2="896.1" stroke="rgb(139,22,0)" stroke-width="2.8"/>
<line x1="599.8" y1="896.1" x2="600.1" y2="900.1" stroke="rgb(141,22,0)" stroke-width="2.8"/>
<line x1="600.1" y1="900.1" x2="600.4" y2="904.1" stroke="rgb(144,22,0)" stroke-width="2.8"/>
<line x1="600.4" y1="904.1" x2="600.7" y2="908.1" stroke="rgb(147,22,0)" stroke-width="2.8"/>
<line x1="600.7" y1="908.1" x2="601" y2="912.1" stroke="rgb(151,22,0)" stroke-width="2.9"/>
<line x1="601" y1="912.1" x2="601.2" y2="916.2" stroke="rgb(154,22,0)" stroke-width="2.9"/>
<line x1="601.2" y1="916.2" x2="601.5" y2="920.2" stroke="rgb(157,22,0)" stroke-width="2.9"/>
<line x1="601.5" y1="920.2" x2="601.9" y2="924.2" stroke="rgb(160,22,0)" stroke-width="2.9"/>
<line x1="601.9" y1="924.2" x2="602.3" y2="928.2" stroke="rgb(164,22,0)" stroke-width="3"/>
<line x1="602.3" y1="928.2" x2="602.6" y2="932.2" stroke="rgb(167,22,0)" stroke-width="3"/>
<line x1="602.6" y1="932.2" x2="603" y2="936.2" stroke="rgb(170,22,0)" stroke-width="3"/>
<line x1="603" y1="936.2" x2="603.4" y2="940.3" stroke="rgb(174,22,0)" stroke-width="3"/>
<line x1="603.4" y1="940.3" x2="603.7" y2="944.3" stroke="rgb(177,22,0)" stroke-width="3.1"/>
<line x1="603.7" y1="944.3" x2="604.3" y2="948.3" stroke="rgb(180,22,0)" stroke-width="3.1"/>
<line x1="604.3" y1="948.3" x2="605.2" y2="952.2" stroke="rgb(183,22,0)" stroke-width="3.1"/>
<line x1="605.2" y1="952.2" x2="606.2" y2="956.1" stroke="rgb(186,22,0)" stroke-width="3.2"/>
<line x1="606.2" y1="956.1" x2="607.1" y2="960" stroke="rgb(188,22,0)" stroke-width="3.2"/>
<line x1="607.1" y1="960" x2="608.1" y2="963.9" stroke="rgb(190,22,0)" stroke-width="3.3"/>
<line x1="608.1" y1="963.9" x2="609" y2="967.8" stroke="rgb(193,22,0)" stroke-width="3.3"/>
<line x1="609" y1="967.8" x2="609.9" y2="971.8" stroke="rgb(195,22,0)" stroke-width="3.4"/>
<line x1="609.9" y1="971.8" x2="611.1" y2="975.6" stroke="rgb(198,22,0)" stroke-width="3.4"/>
<line x1="611.1" y1="975.6" x2="612.3" y2="979.5" stroke="rgb(200,22,0)" stroke-width="3.5"/>
<line x1="612.3" y1="979.5" x2="613.5" y2="983.3" stroke="rgb(202,22,0)" stroke-width="3.5"/>
<line x1="613.5" y1="983.3" x2="614.6" y2="987.2" stroke="rgb(205,22,0)" stroke-width="3.6"/>
<line x1="614.6" y1="987.2" x2="615.8" y2="991.1" stroke="rgb(207,22,0)" stroke-width="3.6"/>
<line x1="615.8" y1="991.1" x2="617" y2="994.9" stroke="rgb(209,22,0)" stroke-width="3.7"/>
<line x1="617" y1="994.9" x2="618.1" y2="998.8" stroke="rgb(212,22,0)" stroke-width="3.8"/>
<line x1="618.1" y1="998.8" x2="619.1" y2="1002.7" stroke="rgb(214,22,0)" stroke-width="3.8"/>
<line x1="619.1" y1="1002.7" x2="620.2" y2="1006.5" stroke="rgb(214,22,0)" stroke-width="3.9"/>
<line x1="620.2" y1="1006.5" x2="621.3" y2="1010.4" stroke="rgb(215,22,0)" stroke-width="3.9"/>
<line x1="621.3" y1="1010.4" x2="622.4" y2="1014.3" stroke="rgb(215,22,0)" stroke-width="4"/>
<line x1="622.4" y1="1014.3" x2="623.5" y2="1018.2" stroke="rgb(216,22,0)" stroke-width="4"/>
<line x1="623.5" y1="1018.2" x2="624.8" y2="1022" stroke="rgb(216,22,0)" stroke-width="4.1"/>
<line x1="624.8" y1="1022" x2="626.3" y2="1025.7" stroke="rgb(217,22,0)" stroke-width="4.2"/>
<line x1="626.3" y1="1025.7" x2="627.8" y2="1029.5" stroke="rgb(217,22,0)" stroke-width="4.2"/>
<line x1="627.8" y1="1029.5" x2="629.3" y2="1033.2" stroke="rgb(218,22,0)" stroke-width="4.3"/>
<line x1="629.3" y1="1033.2" x2="630.7" y2="1037" stroke="rgb(218,22,0)" stroke-width="4.3"/>
<line x1="630.7" y1="1037" x2="632.2" y2="1040.7" stroke="rgb(219,22,0)" stroke-width="4.4"/>
<line x1="632.2" y1="1040.7" x2="633.9" y2="1044.4" stroke="rgb(219,22,0)" stroke-width="4.4"/>
<line x1="633.9" y1="1044.4" x2="635.7" y2="1048" stroke="rgb(220,22,0)" stroke-width="4.5"/>
<line x1="635.7" y1="1048" x2="637.6" y2="1051.6" stroke="rgb(220,22,0)" stroke-width="4.5"/>
<line x1="637.6" y1="1051.6" x2="639.4" y2="1055.1" stroke="rgb(221,22,0)" stroke-width="4.6"/>
<line x1="639.4" y1="1055.1" x2="641.3" y2="1058.7" stroke="rgb(221,22,0)" stroke-width="4.6"/>
<line x1="641.3" y1="1058.7" x2="643.2" y2="1062.3" stroke="rgb(222,22,0)" stroke-width="4.7"/>
<line x1="643.2" y1="1062.3" x2="645.3" y2="1065.7" stroke="rgb(223,22,0)" stroke-width="4.7"/>
<line x1="645.3" y1="1065.7" x2="647.4" y2="1069.2" stroke="rgb(224,22,0)" stroke-width="4.8"/>
<line x1="647.4" y1="1069.2" x2="649.5" y2="1072.6" stroke="rgb(226,22,0)" stroke-width="6"/>
<line x1="649.5" y1="1072.6" x2="651.6" y2="1076" stroke="rgb(227,22,0)" stroke-width="7.5"/>
<line x1="651.6" y1="1076" x2="653.7" y2="1079.5" stroke="rgb(229,22,0)" stroke-width="8.9"/>
<line x1="653.7" y1="1079.5" x2="656.2" y2="1082.6" stroke="rgb(230,22,0)" stroke-width="10.3"/>
<line x1="656.2" y1="1082.6" x2="658.8" y2="1085.7" stroke="rgb(231,22,0)" stroke-width="11.6"/>
<line x1="658.8" y1="1085.7" x2="661.4" y2="1088.8" stroke="rgb(232,22,0)" stroke-width="12.9"/>
<line x1="661.4" y1="1088.8" x2="663.9" y2="1091.9" stroke="rgb(232,22,0)" stroke-width="14.1"/>
<line x1="663.9" y1="1091.9" x2="667" y2="1094.6" stroke="rgb(232,22,0)" stroke-width="14.3"/>
<line x1="667" y1="1094.6" x2="670" y2="1097.2" stroke="rgb(232,22,0)" stroke-width="14.4"/>
<line x1="670" y1="1097.2" x2="673.1" y2="1099.8" stroke="rgb(232,22,0)" stroke-width="14.5"/>
<line x1="673.1" y1="1099.8" x2="676.2" y2="1102.4" stroke="rgb(232,22,0)" stroke-width="14.7"/>
<line x1="676.2" y1="1102.4" x2="679.4" y2="1104.7" stroke="rgb(232,22,0)" stroke-width="14.8"/>
<line x1="679.4" y1="1104.7" x2="683" y2="1106.5" stroke="rgb(232,22,0)" stroke-width="14.9"/>
<line x1="683" y1="1106.5" x2="686.6" y2="1108.3" stroke="rgb(232,22,0)" stroke-width="15"/>
<line x1="686.6" y1="1108.3" x2="690.3" y2="1110.1" stroke="rgb(232,22,0)" stroke-width="15.1"/>
<line x1="690.3" y1="1110.1" x2="693.9" y2="1111.9" stroke="rgb(232,22,0)" stroke-width="15.2"/>
<line x1="693.9" y1="1111.9" x2="697.6" y2="1113.4" stroke="rgb(232,22,0)" stroke-width="15.3"/>
<line x1="697.6" y1="1113.4" x2="701.3" y2="1114.9" stroke="rgb(232,22,0)" stroke-width="15.4"/>
<line x1="701.3" y1="1114.9" x2="705.1" y2="1116.4" stroke="rgb(232,22,0)" stroke-width="15.5"/>
<line x1="705.1" y1="1116.4" x2="708.8" y2="1117.9" stroke="rgb(232,22,0)" stroke-width="15.6"/>
<line x1="708.8" y1="1117.9" x2="712.7" y2="1119.1" stroke="rgb(232,22,0)" stroke-width="15.6"/>
<line x1="712.7" y1="1119.1" x2="716.5" y2="1120.3" stroke="rgb(232,22,0)" stroke-width="15.7"/>
<line x1="716.5" y1="1120.3" x2="720.4" y2="1121.5" stroke="rgb(232,22,0)" stroke-width="15.8"/>
<line x1="720.4" y1="1121.5" x2="724.2" y2="1122.8" stroke="rgb(221,22,0)" stroke-width="14.9"/>
<line x1="724.2" y1="1122.8" x2="728.1" y2="1123.6" stroke="rgb(210,22,0)" stroke-width="13.9"/>
<line x1="728.1" y1="1123.6" x2="732.1" y2="1124.3" stroke="rgb(199,22,0)" stroke-width="12.9"/>
<line x1="732.1" y1="1124.3" x2="736.1" y2="1125" stroke="rgb(188,22,0)" stroke-width="11.9"/>
<line x1="736.1" y1="1125" x2="740" y2="1125.8" stroke="rgb(177,22,0)" stroke-width="10.9"/>
<line x1="740" y1="1125.8" x2="744" y2="1126.5" stroke="rgb(166,22,0)" stroke-width="9.8"/>
<line x1="724.8" y1="985.4" x2="725.8" y2="989.3" stroke="rgb(103,22,0)" stroke-width="4"/>
<line x1="725.8" y1="989.3" x2="726.8" y2="993.2" stroke="rgb(106,22,0)" stroke-width="4.8"/>
<line x1="726.8" y1="993.2" x2="727.8" y2="997.1" stroke="rgb(108,22,0)" stroke-width="5.6"/>
<line x1="727.8" y1="997.1" x2="728.9" y2="1001" stroke="rgb(111,22,0)" stroke-width="6.3"/>
<line x1="728.9" y1="1001" x2="730" y2="1004.8" stroke="rgb(114,22,0)" stroke-width="7.1"/>
<line x1="730" y1="1004.8" x2="731.1" y2="1008.7" stroke="rgb(116,22,0)" stroke-width="7.8"/>
<line x1="731.1" y1="1008.7" x2="732.3" y2="1012.5" stroke="rgb(119,22,0)" stroke-width="8.6"/>
<line x1="732.3" y1="1012.5" x2="733.4" y2="1016.4" stroke="rgb(122,22,0)" stroke-width="9.3"/>
<line x1="733.4" y1="1016.4" x2="734.5" y2="1020.2" stroke="rgb(124,22,0)" stroke-width="10.1"/>
<line x1="734.5" y1="1020.2" x2="735.7" y2="1024.1" stroke="rgb(127,22,0)" stroke-width="10.8"/>
<line x1="735.7" y1="1024.1" x2="736.8" y2="1028" stroke="rgb(129,22,0)" stroke-width="11.5"/>
<line x1="736.8" y1="1028" x2="737.9" y2="1031.8" stroke="rgb(132,22,0)" stroke-width="12.3"/>
<line x1="737.9" y1="1031.8" x2="739.4" y2="1035.6" stroke="rgb(135,22,0)" stroke-width="13"/>
<line x1="739.4" y1="1035.6" x2="740.9" y2="1039.3" stroke="rgb(137,22,0)" stroke-width="13.3"/>
<line x1="740.9" y1="1039.3" x2="742.4" y2="1043" stroke="rgb(140,22,0)" stroke-width="13.4"/>
<line x1="742.4" y1="1043" x2="743.9" y2="1046.7" stroke="rgb(142,22,0)" stroke-width="13.4"/>
<line x1="743.9" y1="1046.7" x2="745.4" y2="1050.5" stroke="rgb(142,22,0)" stroke-width="13.5"/>
<line x1="745.4" y1="1050.5" x2="747.1" y2="1054.1" stroke="rgb(142,22,0)" stroke-width="13.5"/>
<line x1="747.1" y1="1054.1" x2="749" y2="1057.7" stroke="rgb(142,22,0)" stroke-width="13.6"/>
<line x1="749" y1="1057.7" x2="750.9" y2="1061.2" stroke="rgb(142,22,0)" stroke-width="13.6"/>
<line x1="750.9" y1="1061.2" x2="752.8" y2="1064.8" stroke="rgb(142,22,0)" stroke-width="13.7"/>
<line x1="752.8" y1="1064.8" x2="754.6" y2="1068.3" stroke="rgb(142,22,0)" stroke-width="13.7"/>
<line x1="754.6" y1="1068.3" x2="757.1" y2="1071.5" stroke="rgb(142,22,0)" stroke-width="13.8"/>
<line x1="757.1" y1="1071.5" x2="759.6" y2="1074.6" stroke="rgb(142,22,0)" stroke-width="14.2"/>
<line x1="759.6" y1="1074.6" x2="762.1" y2="1077.7" stroke="rgb(142,22,0)" stroke-width="15.4"/>
<line x1="762.1" y1="1077.7" x2="764.8" y2="1080.8" stroke="rgb(142,22,0)" stroke-width="16.6"/>
<line x1="764.8" y1="1080.8" x2="767.6" y2="1083.6" stroke="rgb(142,22,0)" stroke-width="17.7"/>
<line x1="767.6" y1="1083.6" x2="770.5" y2="1086.5" stroke="rgb(142,22,0)" stroke-width="18.8"/>
<line x1="770.5" y1="1086.5" x2="773.5" y2="1089.1" stroke="rgb(142,22,0)" stroke-width="19.8"/>
<line x1="773.5" y1="1089.1" x2="776.7" y2="1091.5" stroke="rgb(142,22,0)" stroke-width="20.8"/>
<line x1="776.7" y1="1091.5" x2="779.9" y2="1093.9" stroke="rgb(142,22,0)" stroke-width="21.7"/>
<line x1="779.9" y1="1093.9" x2="783.1" y2="1096.4" stroke="rgb(142,22,0)" stroke-width="22.3"/>
<line x1="783.1" y1="1096.4" x2="786.2" y2="1098.9" stroke="rgb(142,22,0)" stroke-width="22.4"/>
<line x1="786.2" y1="1098.9" x2="789.4" y2="1101.4" stroke="rgb(142,22,0)" stroke-width="22.6"/>
<line x1="789.4" y1="1101.4" x2="792.5" y2="1103.9" stroke="rgb(142,22,0)" stroke-width="22.7"/>
<line x1="792.5" y1="1103.9" x2="795.9" y2="1106.1" stroke="rgb(142,22,0)" stroke-width="22.8"/>
<line x1="795.9" y1="1106.1" x2="799.3" y2="1108.2" stroke="rgb(142,22,0)" stroke-width="23"/>
<line x1="799.3" y1="1108.2" x2="802.8" y2="1110.3" stroke="rgb(142,22,0)" stroke-width="23.1"/>
<line x1="802.8" y1="1110.3" x2="806.2" y2="1112.3" stroke="rgb(142,22,0)" stroke-width="23.2"/>
<line x1="806.2" y1="1112.3" x2="809.7" y2="1114.3" stroke="rgb(142,22,0)" stroke-width="23.3"/>
<line x1="809.7" y1="1114.3" x2="813.5" y2="1115.7" stroke="rgb(142,22,0)" stroke-width="23.4"/>
<line x1="813.5" y1="1115.7" x2="817.3" y2="1117" stroke="rgb(142,22,0)" stroke-width="23.2"/>
<line x1="817.3" y1="1117" x2="821" y2="1118.4" stroke="rgb(142,22,0)" stroke-width="22.7"/>
<line x1="821" y1="1118.4" x2="824.8" y2="1119.8" stroke="rgb(142,22,0)" stroke-width="22.2"/>
<line x1="824.8" y1="1119.8" x2="828.6" y2="1121.1" stroke="rgb(142,22,0)" stroke-width="21.7"/>
<line x1="828.6" y1="1121.1" x2="832.5" y2="1122" stroke="rgb(142,22,0)" stroke-width="21.2"/>
<line x1="832.5" y1="1122" x2="836.4" y2="1123" stroke="rgb(142,22,0)" stroke-width="20.6"/>
<line x1="836.4" y1="1123" x2="840.3" y2="1123.9" stroke="rgb(142,22,0)" stroke-width="20.1"/>
<line x1="840.3" y1="1123.9" x2="844.3" y2="1124.8" stroke="rgb(142,22,0)" stroke-width="19.6"/>
<line x1="844.3" y1="1124.8" x2="848.2" y2="1125.7" stroke="rgb(142,22,0)" stroke-width="19"/>
<line x1="848.2" y1="1125.7" x2="852.1" y2="1126.6" stroke="rgb(142,22,0)" stroke-width="18.4"/>
<line x1="852.1" y1="1126.6" x2="856" y2="1127.5" stroke="rgb(142,22,0)" stroke-width="17.8"/>
<line x1="719" y1="962" x2="720" y2="965.9" stroke="rgb(105,22,0)" stroke-width="3.3"/>
<line x1="720" y1="965.9" x2="720.9" y2="969.8" stroke="rgb(112,22,0)" stroke-width="3.3"/>
<line x1="720.9" y1="969.8" x2="721.9" y2="973.7" stroke="rgb(118,22,0)" stroke-width="3.4"/>
<line x1="721.9" y1="973.7" x2="722.9" y2="977.6" stroke="rgb(125,22,0)" stroke-width="3.5"/>
<line x1="722.9" y1="977.6" x2="723.9" y2="981.5" stroke="rgb(131,22,0)" stroke-width="3.5"/>
<line x1="723.9" y1="981.5" x2="724.8" y2="985.4" stroke="rgb(138,22,0)" stroke-width="3.6"/>
<line x1="724.8" y1="985.4" x2="725.8" y2="989.3" stroke="rgb(145,22,0)" stroke-width="3.6"/>
<line x1="725.8" y1="989.3" x2="726.8" y2="993.2" stroke="rgb(152,22,0)" stroke-width="3.7"/>
<line x1="726.8" y1="993.2" x2="727.8" y2="997.1" stroke="rgb(159,22,0)" stroke-width="3.7"/>
<line x1="727.8" y1="997.1" x2="728.9" y2="1001" stroke="rgb(167,22,0)" stroke-width="3.8"/>
<line x1="728.9" y1="1001" x2="730" y2="1004.8" stroke="rgb(173,22,0)" stroke-width="3.8"/>
<line x1="730" y1="1004.8" x2="731.1" y2="1008.7" stroke="rgb(179,22,0)" stroke-width="3.9"/>
<line x1="731.1" y1="1008.7" x2="732.3" y2="1012.5" stroke="rgb(185,22,0)" stroke-width="3.9"/>
<line x1="732.3" y1="1012.5" x2="733.4" y2="1016.4" stroke="rgb(191,22,0)" stroke-width="4"/>
<line x1="733.4" y1="1016.4" x2="734.5" y2="1020.2" stroke="rgb(197,22,0)" stroke-width="4.1"/>
<line x1="734.5" y1="1020.2" x2="735.7" y2="1024.1" stroke="rgb(203,22,0)" stroke-width="4.1"/>
<line x1="735.7" y1="1024.1" x2="736.8" y2="1028" stroke="rgb(209,22,0)" stroke-width="4.2"/>
<line x1="736.8" y1="1028" x2="737.9" y2="1031.8" stroke="rgb(215,22,0)" stroke-width="4.2"/>
<line x1="737.9" y1="1031.8" x2="739.4" y2="1035.6" stroke="rgb(218,22,0)" stroke-width="4.3"/>
<line x1="739.4" y1="1035.6" x2="740.9" y2="1039.3" stroke="rgb(218,22,0)" stroke-width="4.3"/>
<line x1="740.9" y1="1039.3" x2="742.4" y2="1043" stroke="rgb(219,22,0)" stroke-width="4.4"/>
<line x1="742.4" y1="1043" x2="743.9" y2="1046.7" stroke="rgb(219,22,0)" stroke-width="4.4"/>
<line x1="743.9" y1="1046.7" x2="745.4" y2="1050.5" stroke="rgb(220,22,0)" stroke-width="4.5"/>
<line x1="745.4" y1="1050.5" x2="747.1" y2="1054.1" stroke="rgb(220,22,0)" stroke-width="4.5"/>
<line x1="747.1" y1="1054.1" x2="749" y2="1057.7" stroke="rgb(221,22,0)" stroke-width="4.6"/>
<line x1="749" y1="1057.7" x2="750.9" y2="1061.2" stroke="rgb(221,22,0)" stroke-width="4.6"/>
<line x1="750.9" y1="1061.2" x2="752.8" y2="1064.8" stroke="rgb(223,22,0)" stroke-width="4.7"/>
<line x1="752.8" y1="1064.8" x2="754.6" y2="1068.3" stroke="rgb(224,22,0)" stroke-width="4.7"/>
<line x1="754.6" y1="1068.3" x2="757.1" y2="1071.5" stroke="rgb(225,22,0)" stroke-width="4.8"/>
<line x1="757.1" y1="1071.5" x2="759.6" y2="1074.6" stroke="rgb(227,22,0)" stroke-width="5.2"/>
<line x1="759.6" y1="1074.6" x2="762.1" y2="1077.7" stroke="rgb(228,22,0)" stroke-width="6.4"/>
<line x1="762.1" y1="1077.7" x2="764.8" y2="1080.8" stroke="rgb(229,22,0)" stroke-width="7.6"/>
<line x1="764.8" y1="1080.8" x2="767.6" y2="1083.6" stroke="rgb(230,22,0)" stroke-width="8.7"/>
<line x1="767.6" y1="1083.6" x2="770.5" y2="1086.5" stroke="rgb(232,22,0)" stroke-width="9.8"/>
<line x1="770.5" y1="1086.5" x2="773.5" y2="1089.1" stroke="rgb(232,22,0)" stroke-width="10.8"/>
<line x1="773.5" y1="1089.1" x2="776.7" y2="1091.5" stroke="rgb(232,22,0)" stroke-width="11.8"/>
<line x1="776.7" y1="1091.5" x2="779.9" y2="1093.9" stroke="rgb(232,22,0)" stroke-width="12.7"/>
<line x1="779.9" y1="1093.9" x2="783.1" y2="1096.4" stroke="rgb(232,22,0)" stroke-width="13.3"/>
<line x1="783.1" y1="1096.4" x2="786.2" y2="1098.9" stroke="rgb(232,22,0)" stroke-width="13.4"/>
<line x1="786.2" y1="1098.9" x2="789.4" y2="1101.4" stroke="rgb(232,22,0)" stroke-width="13.6"/>
<line x1="789.4" y1="1101.4" x2="792.5" y2="1103.9" stroke="rgb(232,22,0)" stroke-width="13.7"/>
<line x1="792.5" y1="1103.9" x2="795.9" y2="1106.1" stroke="rgb(232,22,0)" stroke-width="13.8"/>
<line x1="795.9" y1="1106.1" x2="799.3" y2="1108.2" stroke="rgb(232,22,0)" stroke-width="14"/>
<line x1="799.3" y1="1108.2" x2="802.8" y2="1110.3" stroke="rgb(232,22,0)" stroke-width="14.1"/>
<line x1="802.8" y1="1110.3" x2="806.2" y2="1112.3" stroke="rgb(232,22,0)" stroke-width="14.2"/>
<line x1="806.2" y1="1112.3" x2="809.7" y2="1114.3" stroke="rgb(232,22,0)" stroke-width="14.3"/>
<line x1="809.7" y1="1114.3" x2="813.5" y2="1115.7" stroke="rgb(232,22,0)" stroke-width="14.4"/>
<line x1="813.5" y1="1115.7" x2="817.3" y2="1117" stroke="rgb(228,22,0)" stroke-width="14.2"/>
<line x1="817.3" y1="1117" x2="821" y2="1118.4" stroke="rgb(221,22,0)" stroke-width="13.7"/>
<line x1="821" y1="1118.4" x2="824.8" y2="1119.8" stroke="rgb(214,22,0)" stroke-width="13.2"/>
<line x1="824.8" y1="1119.8" x2="828.6" y2="1121.1" stroke="rgb(208,22,0)" stroke-width="12.7"/>
<line x1="828.6" y1="1121.1" x2="832.5" y2="1122" stroke="rgb(201,22,0)" stroke-width="12.2"/>
<line x1="832.5" y1="1122" x2="836.4" y2="1123" stroke="rgb(195,22,0)" stroke-width="11.6"/>
<line x1="836.4" y1="1123" x2="840.3" y2="1123.9" stroke="rgb(188,22,0)" stroke-width="11.1"/>
<line x1="840.3" y1="1123.9" x2="844.3" y2="1124.8" stroke="rgb(181,22,0)" stroke-width="10.6"/>
<line x1="844.3" y1="1124.8" x2="848.2" y2="1125.7" stroke="rgb(175,22,0)" stroke-width="10"/>
<line x1="848.2" y1="1125.7" x2="852.1" y2="1126.6" stroke="rgb(168,22,0)" stroke-width="9.4"/>
<line x1="852.1" y1="1126.6" x2="856" y2="1127.5" stroke="rgb(162,22,0)" stroke-width="8.8"/>
<line x1="744" y1="958" x2="745.3" y2="961.8" stroke="rgb(117,22,0)" stroke-width="1.6"/>
<line x1="745.3" y1="961.8" x2="746.7" y2="965.7" stroke="rgb(119,22,0)" stroke-width="1.6"/>
<line x1="746.7" y1="965.7" x2="748" y2="969.5" stroke="rgb(120,22,0)" stroke-width="1.7"/>
<line x1="748" y1="969.5" x2="749.4" y2="973.3" stroke="rgb(121,22,0)" stroke-width="1.7"/>
<line x1="749.4" y1="973.3" x2="750.7" y2="977.2" stroke="rgb(123,22,0)" stroke-width="1.7"/>
<line x1="750.7" y1="977.2" x2="752.1" y2="981" stroke="rgb(124,22,0)" stroke-width="1.8"/>
<line x1="752.1" y1="981" x2="753.4" y2="984.8" stroke="rgb(126,22,0)" stroke-width="1.8"/>
<line x1="753.4" y1="984.8" x2="754.8" y2="988.7" stroke="rgb(127,22,0)" stroke-width="1.8"/>
<line x1="754.8" y1="988.7" x2="756.1" y2="992.5" stroke="rgb(129,22,0)" stroke-width="1.8"/>
<line x1="756.1" y1="992.5" x2="757.6" y2="996.3" stroke="rgb(130,22,0)" stroke-width="1.9"/>
<line x1="757.6" y1="996.3" x2="759.4" y2="999.9" stroke="rgb(132,22,0)" stroke-width="1.9"/>
<line x1="759.4" y1="999.9" x2="761.1" y2="1003.6" stroke="rgb(132,22,0)" stroke-width="1.9"/>
<line x1="761.1" y1="1003.6" x2="762.9" y2="1007.2" stroke="rgb(133,22,0)" stroke-width="2"/>
<line x1="762.9" y1="1007.2" x2="764.7" y2="1010.9" stroke="rgb(133,22,0)" stroke-width="2.1"/>
<line x1="764.7" y1="1010.9" x2="766.4" y2="1014.5" stroke="rgb(133,22,0)" stroke-width="2.2"/>
<line x1="766.4" y1="1014.5" x2="768.2" y2="1018.2" stroke="rgb(134,22,0)" stroke-width="2.3"/>
<line x1="768.2" y1="1018.2" x2="769.9" y2="1021.9" stroke="rgb(134,22,0)" stroke-width="2.4"/>
<line x1="769.9" y1="1021.9" x2="772.1" y2="1025.3" stroke="rgb(134,22,0)" stroke-width="2.5"/>
<line x1="772.1" y1="1025.3" x2="774.3" y2="1028.7" stroke="rgb(134,22,0)" stroke-width="2.5"/>
<line x1="774.3" y1="1028.7" x2="776.6" y2="1032.1" stroke="rgb(135,22,0)" stroke-width="2.6"/>
<line x1="776.6" y1="1032.1" x2="778.8" y2="1035.5" stroke="rgb(135,22,0)" stroke-width="2.8"/>
<line x1="778.8" y1="1035.5" x2="781" y2="1038.9" stroke="rgb(135,22,0)" stroke-width="2.9"/>
<line x1="781" y1="1038.9" x2="783.2" y2="1042.3" stroke="rgb(136,22,0)" stroke-width="3.1"/>
<line x1="783.2" y1="1042.3" x2="785.9" y2="1045.4" stroke="rgb(136,22,0)" stroke-width="3.2"/>
<line x1="785.9" y1="1045.4" x2="788.5" y2="1048.5" stroke="rgb(136,22,0)" stroke-width="3.4"/>
<line x1="788.5" y1="1048.5" x2="791.1" y2="1051.6" stroke="rgb(136,22,0)" stroke-width="3.5"/>
<line x1="791.1" y1="1051.6" x2="793.8" y2="1054.7" stroke="rgb(131,22,0)" stroke-width="3.6"/>
<line x1="793.8" y1="1054.7" x2="796.4" y2="1057.7" stroke="rgb(124,22,0)" stroke-width="3.5"/>
<line x1="796.4" y1="1057.7" x2="799" y2="1060.8" stroke="rgb(117,22,0)" stroke-width="3.5"/>
<line x1="799" y1="1060.8" x2="801.9" y2="1063.7" stroke="rgb(111,22,0)" stroke-width="3.5"/>
<line x1="801.9" y1="1063.7" x2="804.9" y2="1066.4" stroke="rgb(104,22,0)" stroke-width="3.4"/>
<line x1="804.9" y1="1066.4" x2="807.9" y2="1069.1" stroke="rgb(98,22,0)" stroke-width="3.3"/>
<line x1="807.9" y1="1069.1" x2="810.9" y2="1071.9" stroke="rgb(92,22,0)" stroke-width="3.2"/>
<line x1="810.9" y1="1071.9" x2="814" y2="1074.6" stroke="rgb(85,22,0)" stroke-width="3.1"/>
<line x1="814" y1="1074.6" x2="817" y2="1077.3" stroke="rgb(79,22,0)" stroke-width="3"/>
<line x1="817" y1="1077.3" x2="820" y2="1080" stroke="rgb(72,22,0)" stroke-width="2.9"/>
<line x1="1296.2" y1="985.5" x2="1296.8" y2="989.5" stroke="rgb(103,22,0)" stroke-width="4.1"/>
<line x1="1296.8" y1="989.5" x2="1297.4" y2="993.4" stroke="rgb(106,22,0)" stroke-width="4.8"/>
<line x1="1297.4" y1="993.4" x2="1298.3" y2="997.4" stroke="rgb(109,22,0)" stroke-width="5.6"/>
<line x1="1298.3" y1="997.4" x2="1299.2" y2="1001.3" stroke="rgb(111,22,0)" stroke-width="6.4"/>
<line x1="1299.2" y1="1001.3" x2="1300.1" y2="1005.2" stroke="rgb(114,22,0)" stroke-width="7.1"/>
<line x1="1300.1" y1="1005.2" x2="1301.1" y2="1009.1" stroke="rgb(117,22,0)" stroke-width="7.9"/>
<line x1="1301.1" y1="1009.1" x2="1302" y2="1013" stroke="rgb(119,22,0)" stroke-width="8.7"/>
<line x1="1302" y1="1013" x2="1303" y2="1016.8" stroke="rgb(122,22,0)" stroke-width="9.4"/>
<line x1="1303" y1="1016.8" x2="1304.4" y2="1020.6" stroke="rgb(124,22,0)" stroke-width="10.2"/>
<line x1="1304.4" y1="1020.6" x2="1305.8" y2="1024.3" stroke="rgb(127,22,0)" stroke-width="10.9"/>
<line x1="1305.8" y1="1024.3" x2="1307.3" y2="1028.1" stroke="rgb(130,22,0)" stroke-width="11.7"/>
<line x1="1307.3" y1="1028.1" x2="1308.8" y2="1031.8" stroke="rgb(132,22,0)" stroke-width="12.4"/>
<line x1="1308.8" y1="1031.8" x2="1310.2" y2="1035.5" stroke="rgb(135,22,0)" stroke-width="13.2"/>
<line x1="1310.2" y1="1035.5" x2="1311.8" y2="1039.2" stroke="rgb(137,22,0)" stroke-width="13.5"/>
<line x1="1311.8" y1="1039.2" x2="1313.4" y2="1042.9" stroke="rgb(140,22,0)" stroke-width="13.5"/>
<line x1="1313.4" y1="1042.9" x2="1314.9" y2="1046.6" stroke="rgb(142,22,0)" stroke-width="13.6"/>
<line x1="1314.9" y1="1046.6" x2="1316.5" y2="1050.3" stroke="rgb(142,22,0)" stroke-width="13.7"/>
<line x1="1316.5" y1="1050.3" x2="1318.1" y2="1054" stroke="rgb(142,22,0)" stroke-width="13.7"/>
<line x1="1318.1" y1="1054" x2="1319.9" y2="1057.6" stroke="rgb(142,22,0)" stroke-width="13.8"/>
<line x1="1319.9" y1="1057.6" x2="1321.9" y2="1061" stroke="rgb(142,22,0)" stroke-width="14.9"/>
<line x1="1321.9" y1="1061" x2="1323.9" y2="1064.5" stroke="rgb(142,22,0)" stroke-width="16.1"/>
<line x1="1323.9" y1="1064.5" x2="1325.8" y2="1068" stroke="rgb(142,22,0)" stroke-width="17.3"/>
<line x1="1325.8" y1="1068" x2="1327.8" y2="1071.5" stroke="rgb(142,22,0)" stroke-width="18.5"/>
<line x1="1327.8" y1="1071.5" x2="1329.9" y2="1074.9" stroke="rgb(142,22,0)" stroke-width="19.7"/>
<line x1="1329.9" y1="1074.9" x2="1332.2" y2="1078.2" stroke="rgb(142,22,0)" stroke-width="20.8"/>
<line x1="1332.2" y1="1078.2" x2="1334.6" y2="1081.4" stroke="rgb(142,22,0)" stroke-width="21.4"/>
<line x1="1334.6" y1="1081.4" x2="1337" y2="1084.6" stroke="rgb(142,22,0)" stroke-width="21.5"/>
<line x1="1337" y1="1084.6" x2="1339.4" y2="1087.8" stroke="rgb(142,22,0)" stroke-width="21.6"/>
<line x1="1339.4" y1="1087.8" x2="1342" y2="1090.9" stroke="rgb(142,22,0)" stroke-width="21.7"/>
<line x1="1342" y1="1090.9" x2="1344.9" y2="1093.7" stroke="rgb(142,22,0)" stroke-width="21.8"/>
<line x1="1344.9" y1="1093.7" x2="1347.8" y2="1096.4" stroke="rgb(142,22,0)" stroke-width="21.9"/>
<line x1="1347.8" y1="1096.4" x2="1350.7" y2="1099.2" stroke="rgb(142,22,0)" stroke-width="22"/>
<line x1="1350.7" y1="1099.2" x2="1353.6" y2="1102" stroke="rgb(142,22,0)" stroke-width="22.1"/>
<line x1="1353.6" y1="1102" x2="1356.8" y2="1104.2" stroke="rgb(142,22,0)" stroke-width="22.2"/>
<line x1="1356.8" y1="1104.2" x2="1360.4" y2="1106.1" stroke="rgb(142,22,0)" stroke-width="22.3"/>
<line x1="1360.4" y1="1106.1" x2="1364" y2="1107.9" stroke="rgb(142,22,0)" stroke-width="22.4"/>
<line x1="1364" y1="1107.9" x2="1367.5" y2="1109.7" stroke="rgb(142,22,0)" stroke-width="22.4"/>
<line x1="1367.5" y1="1109.7" x2="1371.2" y2="1111.3" stroke="rgb(142,22,0)" stroke-width="22.5"/>
<line x1="1371.2" y1="1111.3" x2="1375" y2="1112.5" stroke="rgb(142,22,0)" stroke-width="22.5"/>
<line x1="1375" y1="1112.5" x2="1378.9" y2="1113.6" stroke="rgb(142,22,0)" stroke-width="22.6"/>
<line x1="1378.9" y1="1113.6" x2="1382.7" y2="1114.7" stroke="rgb(142,22,0)" stroke-width="22.6"/>
<line x1="1382.7" y1="1114.7" x2="1386.6" y2="1115.9" stroke="rgb(142,22,0)" stroke-width="22.7"/>
<line x1="1386.6" y1="1115.9" x2="1390.5" y2="1116.7" stroke="rgb(142,22,0)" stroke-width="22.4"/>
<line x1="1390.5" y1="1116.7" x2="1394.4" y2="1117.6" stroke="rgb(142,22,0)" stroke-width="21.9"/>
<line x1="1394.4" y1="1117.6" x2="1398.3" y2="1118.4" stroke="rgb(142,22,0)" stroke-width="21.3"/>
<line x1="1398.3" y1="1118.4" x2="1402.2" y2="1119.2" stroke="rgb(142,22,0)" stroke-width="20.7"/>
<line x1="1402.2" y1="1119.2" x2="1406.2" y2="1120" stroke="rgb(142,22,0)" stroke-width="20.2"/>
<line x1="1406.2" y1="1120" x2="1410.1" y2="1120.6" stroke="rgb(142,22,0)" stroke-width="19.6"/>
<line x1="1410.1" y1="1120.6" x2="1414.1" y2="1121.2" stroke="rgb(142,22,0)" stroke-width="19"/>
<line x1="1414.1" y1="1121.2" x2="1418.1" y2="1121.8" stroke="rgb(142,22,0)" stroke-width="18.4"/>
<line x1="1418.1" y1="1121.8" x2="1422" y2="1122.4" stroke="rgb(142,22,0)" stroke-width="17.8"/>
<line x1="1422" y1="1122.4" x2="1426" y2="1123" stroke="rgb(142,22,0)" stroke-width="17.3"/>
<line x1="1281.8" y1="846" x2="1282.1" y2="850" stroke="rgb(111,22,0)" stroke-width="2.7"/>
<line x1="1282.1" y1="850" x2="1282.4" y2="854" stroke="rgb(113,22,0)" stroke-width="2.8"/>
<line x1="1282.4" y1="854" x2="1282.7" y2="858" stroke="rgb(115,22,0)" stroke-width="2.8"/>
<line x1="1282.7" y1="858" x2="1283" y2="862" stroke="rgb(118,22,0)" stroke-width="2.8"/>
<line x1="1283" y1="862" x2="1283.3" y2="866" stroke="rgb(120,22,0)" stroke-width="2.8"/>
<line x1="1283.3" y1="866" x2="1283.5" y2="870" stroke="rgb(123,22,0)" stroke-width="2.8"/>
<line x1="1283.5" y1="870" x2="1283.8" y2="874" stroke="rgb(125,22,0)" stroke-width="2.8"/>
<line x1="1283.8" y1="874" x2="1284.1" y2="878" stroke="rgb(128,22,0)" stroke-width="2.8"/>
<line x1="1284.1" y1="878" x2="1284.4" y2="882" stroke="rgb(130,22,0)" stroke-width="2.8"/>
<line x1="1284.4" y1="882" x2="1284.7" y2="886" stroke="rgb(133,22,0)" stroke-width="2.8"/>
<line x1="1284.7" y1="886" x2="1285" y2="890" stroke="rgb(135,22,0)" stroke-width="2.8"/>
<line x1="1285" y1="890" x2="1285.3" y2="894" stroke="rgb(137,22,0)" stroke-width="2.8"/>
<line x1="1285.3" y1="894" x2="1285.7" y2="898" stroke="rgb(140,22,0)" stroke-width="2.8"/>
<line x1="1285.7" y1="898" x2="1286" y2="902" stroke="rgb(142,22,0)" stroke-width="2.8"/>
<line x1="1286" y1="902" x2="1286.4" y2="906" stroke="rgb(146,22,0)" stroke-width="2.8"/>
<line x1="1286.4" y1="906" x2="1286.7" y2="910" stroke="rgb(149,22,0)" stroke-width="2.8"/>
<line x1="1286.7" y1="910" x2="1287.1" y2="914" stroke="rgb(152,22,0)" stroke-width="2.9"/>
<line x1="1287.1" y1="914" x2="1287.4" y2="918" stroke="rgb(155,22,0)" stroke-width="2.9"/>
<line x1="1287.4" y1="918" x2="1287.8" y2="921.9" stroke="rgb(159,22,0)" stroke-width="2.9"/>
<line x1="1287.8" y1="921.9" x2="1288.1" y2="925.9" stroke="rgb(162,22,0)" stroke-width="2.9"/>
<line x1="1288.1" y1="925.9" x2="1288.6" y2="929.9" stroke="rgb(165,22,0)" stroke-width="3"/>
<line x1="1288.6" y1="929.9" x2="1289" y2="933.9" stroke="rgb(168,22,0)" stroke-width="3"/>
<line x1="1289" y1="933.9" x2="1289.5" y2="937.9" stroke="rgb(172,22,0)" stroke-width="3"/>
<line x1="1289.5" y1="937.9" x2="1289.9" y2="941.9" stroke="rgb(175,22,0)" stroke-width="3"/>
<line x1="1289.9" y1="941.9" x2="1290.4" y2="945.9" stroke="rgb(178,22,0)" stroke-width="3.1"/>
<line x1="1290.4" y1="945.9" x2="1290.8" y2="949.8" stroke="rgb(181,22,0)" stroke-width="3.1"/>
<line x1="1290.8" y1="949.8" x2="1291.3" y2="953.8" stroke="rgb(184,22,0)" stroke-width="3.1"/>
<line x1="1291.3" y1="953.8" x2="1291.8" y2="957.8" stroke="rgb(187,22,0)" stroke-width="3.2"/>
<line x1="1291.8" y1="957.8" x2="1292.3" y2="961.8" stroke="rgb(189,22,0)" stroke-width="3.2"/>
<line x1="1292.3" y1="961.8" x2="1292.9" y2="965.7" stroke="rgb(192,22,0)" stroke-width="3.3"/>
<line x1="1292.9" y1="965.7" x2="1293.6" y2="969.7" stroke="rgb(194,22,0)" stroke-width="3.3"/>
<line x1="1293.6" y1="969.7" x2="1294.2" y2="973.7" stroke="rgb(196,22,0)" stroke-width="3.4"/>
<line x1="1294.2" y1="973.7" x2="1294.9" y2="977.6" stroke="rgb(199,22,0)" stroke-width="3.5"/>
<line x1="1294.9" y1="977.6" x2="1295.5" y2="981.6" stroke="rgb(201,22,0)" stroke-width="3.5"/>
<line x1="1295.5" y1="981.6" x2="1296.2" y2="985.5" stroke="rgb(204,22,0)" stroke-width="3.6"/>
<line x1="1296.2" y1="985.5" x2="1296.8" y2="989.5" stroke="rgb(206,22,0)" stroke-width="3.6"/>
<line x1="1296.8" y1="989.5" x2="1297.4" y2="993.4" stroke="rgb(208,22,0)" stroke-width="3.7"/>
<line x1="1297.4" y1="993.4" x2="1298.3" y2="997.4" stroke="rgb(211,22,0)" stroke-width="3.7"/>
<line x1="1298.3" y1="997.4" x2="1299.2" y2="1001.3" stroke="rgb(213,22,0)" stroke-width="3.8"/>
<line x1="1299.2" y1="1001.3" x2="1300.1" y2="1005.2" stroke="rgb(214,22,0)" stroke-width="3.9"/>
<line x1="1300.1" y1="1005.2" x2="1301.1" y2="1009.1" stroke="rgb(215,22,0)" stroke-width="3.9"/>
<line x1="1301.1" y1="1009.1" x2="1302" y2="1013" stroke="rgb(215,22,0)" stroke-width="4"/>
<line x1="1302" y1="1013" x2="1303" y2="1016.8" stroke="rgb(216,22,0)" stroke-width="4.1"/>
<line x1="1303" y1="1016.8" x2="1304.4" y2="1020.6" stroke="rgb(216,22,0)" stroke-width="4.1"/>
<line x1="1304.4" y1="1020.6" x2="1305.8" y2="1024.3" stroke="rgb(217,22,0)" stroke-width="4.2"/>
<line x1="1305.8" y1="1024.3" x2="1307.3" y2="1028.1" stroke="rgb(217,22,0)" stroke-width="4.3"/>
<line x1="1307.3" y1="1028.1" x2="1308.8" y2="1031.8" stroke="rgb(218,22,0)" stroke-width="4.3"/>
<line x1="1308.8" y1="1031.8" x2="1310.2" y2="1035.5" stroke="rgb(218,22,0)" stroke-width="4.4"/>
<line x1="1310.2" y1="1035.5" x2="1311.8" y2="1039.2" stroke="rgb(218,22,0)" stroke-width="4.5"/>
<line x1="1311.8" y1="1039.2" x2="1313.4" y2="1042.9" stroke="rgb(219,22,0)" stroke-width="4.5"/>
<line x1="1313.4" y1="1042.9" x2="1314.9" y2="1046.6" stroke="rgb(219,22,0)" stroke-width="4.6"/>
<line x1="1314.9" y1="1046.6" x2="1316.5" y2="1050.3" stroke="rgb(220,22,0)" stroke-width="4.7"/>
<line x1="1316.5" y1="1050.3" x2="1318.1" y2="1054" stroke="rgb(220,22,0)" stroke-width="4.7"/>
<line x1="1318.1" y1="1054" x2="1319.9" y2="1057.6" stroke="rgb(221,22,0)" stroke-width="4.8"/>
<line x1="1319.9" y1="1057.6" x2="1321.9" y2="1061" stroke="rgb(221,22,0)" stroke-width="5.9"/>
<line x1="1321.9" y1="1061" x2="1323.9" y2="1064.5" stroke="rgb(222,22,0)" stroke-width="7.1"/>
<line x1="1323.9" y1="1064.5" x2="1325.8" y2="1068" stroke="rgb(224,22,0)" stroke-width="8.3"/>
<line x1="1325.8" y1="1068" x2="1327.8" y2="1071.5" stroke="rgb(225,22,0)" stroke-width="9.5"/>
<line x1="1327.8" y1="1071.5" x2="1329.9" y2="1074.9" stroke="rgb(227,22,0)" stroke-width="10.7"/>
<line x1="1329.9" y1="1074.9" x2="1332.2" y2="1078.2" stroke="rgb(228,22,0)" stroke-width="11.8"/>
<line x1="1332.2" y1="1078.2" x2="1334.6" y2="1081.4" stroke="rgb(229,22,0)" stroke-width="12.4"/>
<line x1="1334.6" y1="1081.4" x2="1337" y2="1084.6" stroke="rgb(231,22,0)" stroke-width="12.5"/>
<line x1="1337" y1="1084.6" x2="1339.4" y2="1087.8" stroke="rgb(232,22,0)" stroke-width="12.6"/>
<line x1="1339.4" y1="1087.8" x2="1342" y2="1090.9" stroke="rgb(232,22,0)" stroke-width="12.7"/>
<line x1="1342" y1="1090.9" x2="1344.9" y2="1093.7" stroke="rgb(232,22,0)" stroke-width="12.8"/>
<line x1="1344.9" y1="1093.7" x2="1347.8" y2="1096.4" stroke="rgb(232,22,0)" stroke-width="12.9"/>
<line x1="1347.8" y1="1096.4" x2="1350.7" y2="1099.2" stroke="rgb(232,22,0)" stroke-width="13"/>
<line x1="1350.7" y1="1099.2" x2="1353.6" y2="1102" stroke="rgb(232,22,0)" stroke-width="13.1"/>
<line x1="1353.6" y1="1102" x2="1356.8" y2="1104.2" stroke="rgb(232,22,0)" stroke-width="13.2"/>
<line x1="1356.8" y1="1104.2" x2="1360.4" y2="1106.1" stroke="rgb(232,22,0)" stroke-width="13.3"/>
<line x1="1360.4" y1="1106.1" x2="1364" y2="1107.9" stroke="rgb(232,22,0)" stroke-width="13.4"/>
<line x1="1364" y1="1107.9" x2="1367.5" y2="1109.7" stroke="rgb(232,22,0)" stroke-width="13.4"/>
<line x1="1367.5" y1="1109.7" x2="1371.2" y2="1111.3" stroke="rgb(232,22,0)" stroke-width="13.5"/>
<line x1="1371.2" y1="1111.3" x2="1375" y2="1112.5" stroke="rgb(232,22,0)" stroke-width="13.5"/>
<line x1="1375" y1="1112.5" x2="1378.9" y2="1113.6" stroke="rgb(232,22,0)" stroke-width="13.6"/>
<line x1="1378.9" y1="1113.6" x2="1382.7" y2="1114.7" stroke="rgb(232,22,0)" stroke-width="13.6"/>
<line x1="1382.7" y1="1114.7" x2="1386.6" y2="1115.9" stroke="rgb(232,22,0)" stroke-width="13.7"/>
<line x1="1386.6" y1="1115.9" x2="1390.5" y2="1116.7" stroke="rgb(228,22,0)" stroke-width="13.4"/>
<line x1="1390.5" y1="1116.7" x2="1394.4" y2="1117.6" stroke="rgb(221,22,0)" stroke-width="12.9"/>
<line x1="1394.4" y1="1117.6" x2="1398.3" y2="1118.4" stroke="rgb(214,22,0)" stroke-width="12.3"/>
<line x1="1398.3" y1="1118.4" x2="1402.2" y2="1119.2" stroke="rgb(206,22,0)" stroke-width="11.7"/>
<line x1="1402.2" y1="1119.2" x2="1406.2" y2="1120" stroke="rgb(199,22,0)" stroke-width="11.2"/>
<line x1="1406.2" y1="1120" x2="1410.1" y2="1120.6" stroke="rgb(192,22,0)" stroke-width="10.6"/>
<line x1="1410.1" y1="1120.6" x2="1414.1" y2="1121.2" stroke="rgb(184,22,0)" stroke-width="10"/>
<line x1="1414.1" y1="1121.2" x2="1418.1" y2="1121.8" stroke="rgb(177,22,0)" stroke-width="9.4"/>
<line x1="1418.1" y1="1121.8" x2="1422" y2="1122.4" stroke="rgb(170,22,0)" stroke-width="8.8"/>
<line x1="1422" y1="1122.4" x2="1426" y2="1123" stroke="rgb(162,22,0)" stroke-width="8.3"/>
<line x1="1595.3" y1="983.1" x2="1596" y2="987.1" stroke="rgb(102,22,0)" stroke-width="5"/>
<line x1="1596" y1="987.1" x2="1596.8" y2="991" stroke="rgb(104,22,0)" stroke-width="5.8"/>
<line x1="1596.8" y1="991" x2="1597.5" y2="995" stroke="rgb(107,22,0)" stroke-width="6.7"/>
<line x1="1597.5" y1="995" x2="1598.5" y2="998.9" stroke="rgb(110,22,0)" stroke-width="7.5"/>
<line x1="1598.5" y1="998.9" x2="1599.5" y2="1002.8" stroke="rgb(112,22,0)" stroke-width="8.4"/>
<line x1="1599.5" y1="1002.8" x2="1600.6" y2="1006.7" stroke="rgb(115,22,0)" stroke-width="9.6"/>
<line x1="1600.6" y1="1006.7" x2="1601.6" y2="1010.6" stroke="rgb(118,22,0)" stroke-width="10.7"/>
<line x1="1601.6" y1="1010.6" x2="1602.6" y2="1014.5" stroke="rgb(120,22,0)" stroke-width="11.9"/>
<line x1="1602.6" y1="1014.5" x2="1603.8" y2="1018.3" stroke="rgb(123,22,0)" stroke-width="13"/>
<line x1="1603.8" y1="1018.3" x2="1605.1" y2="1022.1" stroke="rgb(125,22,0)" stroke-width="14.1"/>
<line x1="1605.1" y1="1022.1" x2="1606.5" y2="1025.9" stroke="rgb(128,22,0)" stroke-width="15.2"/>
<line x1="1606.5" y1="1025.9" x2="1607.8" y2="1029.7" stroke="rgb(131,22,0)" stroke-width="16.3"/>
<line x1="1607.8" y1="1029.7" x2="1609.1" y2="1033.5" stroke="rgb(133,22,0)" stroke-width="17.4"/>
<line x1="1609.1" y1="1033.5" x2="1610.6" y2="1037.2" stroke="rgb(136,22,0)" stroke-width="18.5"/>
<line x1="1610.6" y1="1037.2" x2="1612.3" y2="1040.9" stroke="rgb(138,22,0)" stroke-width="18.9"/>
<line x1="1612.3" y1="1040.9" x2="1614" y2="1044.5" stroke="rgb(141,22,0)" stroke-width="19.3"/>
<line x1="1614" y1="1044.5" x2="1615.8" y2="1048.2" stroke="rgb(142,22,0)" stroke-width="19.7"/>
<line x1="1615.8" y1="1048.2" x2="1617.5" y2="1051.8" stroke="rgb(142,22,0)" stroke-width="20.1"/>
<line x1="1617.5" y1="1051.8" x2="1619.3" y2="1055.4" stroke="rgb(142,22,0)" stroke-width="20.6"/>
<line x1="1619.3" y1="1055.4" x2="1621.4" y2="1058.8" stroke="rgb(142,22,0)" stroke-width="21"/>
<line x1="1621.4" y1="1058.8" x2="1623.6" y2="1062.2" stroke="rgb(142,22,0)" stroke-width="21.3"/>
<line x1="1623.6" y1="1062.2" x2="1625.7" y2="1065.6" stroke="rgb(142,22,0)" stroke-width="21.7"/>
<line x1="1625.7" y1="1065.6" x2="1627.9" y2="1069" stroke="rgb(142,22,0)" stroke-width="22.1"/>
<line x1="1627.9" y1="1069" x2="1630.1" y2="1072.3" stroke="rgb(142,22,0)" stroke-width="22.5"/>
<line x1="1630.1" y1="1072.3" x2="1632.5" y2="1075.6" stroke="rgb(142,22,0)" stroke-width="22.9"/>
<line x1="1632.5" y1="1075.6" x2="1634.9" y2="1078.8" stroke="rgb(142,22,0)" stroke-width="23.1"/>
<line x1="1634.9" y1="1078.8" x2="1637.3" y2="1082" stroke="rgb(142,22,0)" stroke-width="23.2"/>
<line x1="1637.3" y1="1082" x2="1639.7" y2="1085.3" stroke="rgb(142,22,0)" stroke-width="23.3"/>
<line x1="1639.7" y1="1085.3" x2="1642.4" y2="1088.3" stroke="rgb(142,22,0)" stroke-width="23.4"/>
<line x1="1642.4" y1="1088.3" x2="1645.3" y2="1091" stroke="rgb(142,22,0)" stroke-width="23.4"/>
<line x1="1645.3" y1="1091" x2="1648.3" y2="1093.7" stroke="rgb(142,22,0)" stroke-width="23.5"/>
<line x1="1648.3" y1="1093.7" x2="1651.2" y2="1096.5" stroke="rgb(142,22,0)" stroke-width="23.6"/>
<line x1="1651.2" y1="1096.5" x2="1654.2" y2="1099.2" stroke="rgb(142,22,0)" stroke-width="23.7"/>
<line x1="1654.2" y1="1099.2" x2="1657.4" y2="1101.6" stroke="rgb(142,22,0)" stroke-width="23.8"/>
<line x1="1657.4" y1="1101.6" x2="1660.7" y2="1103.9" stroke="rgb(142,22,0)" stroke-width="23.8"/>
<line x1="1660.7" y1="1103.9" x2="1664" y2="1106.2" stroke="rgb(142,22,0)" stroke-width="23.9"/>
<line x1="1664" y1="1106.2" x2="1667.3" y2="1108.5" stroke="rgb(142,22,0)" stroke-width="24"/>
<line x1="1667.3" y1="1108.5" x2="1670.9" y2="1110.3" stroke="rgb(142,22,0)" stroke-width="24"/>
<line x1="1670.9" y1="1110.3" x2="1674.6" y2="1111.9" stroke="rgb(142,22,0)" stroke-width="24.1"/>
<line x1="1674.6" y1="1111.9" x2="1678.2" y2="1113.6" stroke="rgb(142,22,0)" stroke-width="24.1"/>
<line x1="1678.2" y1="1113.6" x2="1681.9" y2="1115.2" stroke="rgb(142,22,0)" stroke-width="24.2"/>
<line x1="1681.9" y1="1115.2" x2="1685.7" y2="1116.5" stroke="rgb(142,22,0)" stroke-width="24.2"/>
<line x1="1685.7" y1="1116.5" x2="1689.6" y2="1117.5" stroke="rgb(142,22,0)" stroke-width="24.3"/>
<line x1="1689.6" y1="1117.5" x2="1693.5" y2="1118.5" stroke="rgb(142,22,0)" stroke-width="24.3"/>
<line x1="1693.5" y1="1118.5" x2="1697.4" y2="1119.5" stroke="rgb(142,22,0)" stroke-width="24.2"/>
<line x1="1697.4" y1="1119.5" x2="1701.3" y2="1120.5" stroke="rgb(142,22,0)" stroke-width="23.4"/>
<line x1="1701.3" y1="1120.5" x2="1705.2" y2="1121.4" stroke="rgb(142,22,0)" stroke-width="22.7"/>
<line x1="1705.2" y1="1121.4" x2="1709.1" y2="1122.4" stroke="rgb(142,22,0)" stroke-width="22"/>
<line x1="1709.1" y1="1122.4" x2="1713.1" y2="1123" stroke="rgb(142,22,0)" stroke-width="21.3"/>
<line x1="1713.1" y1="1123" x2="1717.1" y2="1123.7" stroke="rgb(142,22,0)" stroke-width="20.5"/>
<line x1="1717.1" y1="1123.7" x2="1721" y2="1124.3" stroke="rgb(142,22,0)" stroke-width="19.8"/>
<line x1="1721" y1="1124.3" x2="1725" y2="1124.9" stroke="rgb(142,22,0)" stroke-width="19"/>
<line x1="1725" y1="1124.9" x2="1729" y2="1125.5" stroke="rgb(142,22,0)" stroke-width="18.3"/>
<line x1="1571" y1="735" x2="1571.3" y2="739" stroke="rgb(114,22,0)" stroke-width="2.7"/>
<line x1="1571.3" y1="739" x2="1571.5" y2="743" stroke="rgb(115,22,0)" stroke-width="2.7"/>
<line x1="1571.5" y1="743" x2="1571.8" y2="747" stroke="rgb(115,22,0)" stroke-width="2.7"/>
<line x1="1571.8" y1="747" x2="1572.1" y2="751.1" stroke="rgb(116,22,0)" stroke-width="2.7"/>
<line x1="1572.1" y1="751.1" x2="1572.3" y2="755.1" stroke="rgb(116,22,0)" stroke-width="2.7"/>
<line x1="1572.3" y1="755.1" x2="1572.6" y2="759.1" stroke="rgb(117,22,0)" stroke-width="2.7"/>
<line x1="1572.6" y1="759.1" x2="1572.9" y2="763.1" stroke="rgb(117,22,0)" stroke-width="2.7"/>
<line x1="1572.9" y1="763.1" x2="1573.1" y2="767.1" stroke="rgb(118,22,0)" stroke-width="2.7"/>
<line x1="1573.1" y1="767.1" x2="1573.4" y2="771.1" stroke="rgb(118,22,0)" stroke-width="2.7"/>
<line x1="1573.4" y1="771.1" x2="1573.7" y2="775.2" stroke="rgb(118,22,0)" stroke-width="2.7"/>
<line x1="1573.7" y1="775.2" x2="1573.9" y2="779.2" stroke="rgb(119,22,0)" stroke-width="2.8"/>
<line x1="1573.9" y1="779.2" x2="1574.2" y2="783.2" stroke="rgb(119,22,0)" stroke-width="2.8"/>
<line x1="1574.2" y1="783.2" x2="1574.5" y2="787.2" stroke="rgb(120,22,0)" stroke-width="2.8"/>
<line x1="1574.5" y1="787.2" x2="1574.8" y2="791.2" stroke="rgb(120,22,0)" stroke-width="2.8"/>
<line x1="1574.8" y1="791.2" x2="1575" y2="795.2" stroke="rgb(121,22,0)" stroke-width="2.8"/>
<line x1="1575" y1="795.2" x2="1575.3" y2="799.2" stroke="rgb(121,22,0)" stroke-width="2.8"/>
<line x1="1575.3" y1="799.2" x2="1575.6" y2="803.3" stroke="rgb(122,22,0)" stroke-width="2.8"/>
<line x1="1575.6" y1="803.3" x2="1575.9" y2="807.3" stroke="rgb(122,22,0)" stroke-width="2.8"/>
<line x1="1575.9" y1="807.3" x2="1576.1" y2="811.3" stroke="rgb(123,22,0)" stroke-width="2.8"/>
<line x1="1576.1" y1="811.3" x2="1576.4" y2="815.3" stroke="rgb(123,22,0)" stroke-width="2.8"/>
<line x1="1576.4" y1="815.3" x2="1576.7" y2="819.3" stroke="rgb(124,22,0)" stroke-width="2.8"/>
<line x1="1576.7" y1="819.3" x2="1577" y2="823.3" stroke="rgb(124,22,0)" stroke-width="2.8"/>
<line x1="1577" y1="823.3" x2="1577.2" y2="827.4" stroke="rgb(125,22,0)" stroke-width="2.9"/>
<line x1="1577.2" y1="827.4" x2="1577.5" y2="831.4" stroke="rgb(125,22,0)" stroke-width="2.9"/>
<line x1="1577.5" y1="831.4" x2="1577.8" y2="835.4" stroke="rgb(125,22,0)" stroke-width="2.9"/>
<line x1="1577.8" y1="835.4" x2="1578.1" y2="839.4" stroke="rgb(126,22,0)" stroke-width="2.9"/>
<line x1="1578.1" y1="839.4" x2="1578.3" y2="843.4" stroke="rgb(126,22,0)" stroke-width="2.9"/>
<line x1="1578.3" y1="843.4" x2="1578.6" y2="847.4" stroke="rgb(127,22,0)" stroke-width="2.9"/>
<line x1="1578.6" y1="847.4" x2="1578.9" y2="851.4" stroke="rgb(127,22,0)" stroke-width="2.9"/>
<line x1="1578.9" y1="851.4" x2="1579.1" y2="855.5" stroke="rgb(130,22,0)" stroke-width="2.9"/>
<line x1="1579.1" y1="855.5" x2="1579.4" y2="859.5" stroke="rgb(133,22,0)" stroke-width="2.9"/>
<line x1="1579.4" y1="859.5" x2="1579.7" y2="863.5" stroke="rgb(135,22,0)" stroke-width="2.9"/>
<line x1="1579.7" y1="863.5" x2="1580" y2="867.5" stroke="rgb(138,22,0)" stroke-width="2.9"/>
<line x1="1580" y1="867.5" x2="1580.4" y2="871.5" stroke="rgb(141,22,0)" stroke-width="2.9"/>
<line x1="1580.4" y1="871.5" x2="1580.8" y2="875.5" stroke="rgb(144,22,0)" stroke-width="2.9"/>
<line x1="1580.8" y1="875.5" x2="1581.2" y2="879.5" stroke="rgb(147,22,0)" stroke-width="3"/>
<line x1="1581.2" y1="879.5" x2="1581.6" y2="883.5" stroke="rgb(149,22,0)" stroke-width="3"/>
<line x1="1581.6" y1="883.5" x2="1582" y2="887.5" stroke="rgb(152,22,0)" stroke-width="3"/>
<line x1="1582" y1="887.5" x2="1582.4" y2="891.5" stroke="rgb(155,22,0)" stroke-width="3"/>
<line x1="1582.4" y1="891.5" x2="1582.8" y2="895.5" stroke="rgb(158,22,0)" stroke-width="3"/>
<line x1="1582.8" y1="895.5" x2="1583.2" y2="899.5" stroke="rgb(161,22,0)" stroke-width="3"/>
<line x1="1583.2" y1="899.5" x2="1583.6" y2="903.5" stroke="rgb(164,22,0)" stroke-width="3"/>
<line x1="1583.6" y1="903.5" x2="1584" y2="907.6" stroke="rgb(167,22,0)" stroke-width="3.1"/>
<line x1="1584" y1="907.6" x2="1584.4" y2="911.6" stroke="rgb(171,22,0)" stroke-width="3.1"/>
<line x1="1584.4" y1="911.6" x2="1584.8" y2="915.6" stroke="rgb(175,22,0)" stroke-width="3.2"/>
<line x1="1584.8" y1="915.6" x2="1585.3" y2="919.5" stroke="rgb(179,22,0)" stroke-width="3.2"/>
<line x1="1585.3" y1="919.5" x2="1585.8" y2="923.5" stroke="rgb(182,22,0)" stroke-width="3.3"/>
<line x1="1585.8" y1="923.5" x2="1586.4" y2="927.5" stroke="rgb(186,22,0)" stroke-width="3.3"/>
<line x1="1586.4" y1="927.5" x2="1586.9" y2="931.5" stroke="rgb(190,22,0)" stroke-width="3.4"/>
<line x1="1586.9" y1="931.5" x2="1587.4" y2="935.5" stroke="rgb(193,22,0)" stroke-width="3.4"/>
<line x1="1587.4" y1="935.5" x2="1587.9" y2="939.5" stroke="rgb(197,22,0)" stroke-width="3.5"/>
<line x1="1587.9" y1="939.5" x2="1588.5" y2="943.5" stroke="rgb(201,22,0)" stroke-width="3.5"/>
<line x1="1588.5" y1="943.5" x2="1589" y2="947.5" stroke="rgb(205,22,0)" stroke-width="3.5"/>
<line x1="1589" y1="947.5" x2="1589.5" y2="951.5" stroke="rgb(208,22,0)" stroke-width="3.6"/>
<line x1="1589.5" y1="951.5" x2="1590.1" y2="955.4" stroke="rgb(211,22,0)" stroke-width="3.7"/>
<line x1="1590.1" y1="955.4" x2="1590.8" y2="959.4" stroke="rgb(214,22,0)" stroke-width="3.9"/>
<line x1="1590.8" y1="959.4" x2="1591.6" y2="963.4" stroke="rgb(217,22,0)" stroke-width="4"/>
<line x1="1591.6" y1="963.4" x2="1592.3" y2="967.3" stroke="rgb(220,22,0)" stroke-width="4.2"/>
<line x1="1592.3" y1="967.3" x2="1593.1" y2="971.3" stroke="rgb(222,22,0)" stroke-width="4.3"/>
<line x1="1593.1" y1="971.3" x2="1593.8" y2="975.2" stroke="rgb(225,22,0)" stroke-width="4.5"/>
<line x1="1593.8" y1="975.2" x2="1594.5" y2="979.2" stroke="rgb(228,22,0)" stroke-width="4.6"/>
<line x1="1594.5" y1="979.2" x2="1595.3" y2="983.1" stroke="rgb(231,22,0)" stroke-width="4.8"/>
<line x1="1595.3" y1="983.1" x2="1596" y2="987.1" stroke="rgb(233,22,0)" stroke-width="4.9"/>
<line x1="1596" y1="987.1" x2="1596.8" y2="991" stroke="rgb(236,22,0)" stroke-width="5.1"/>
<line x1="1596.8" y1="991" x2="1597.5" y2="995" stroke="rgb(239,22,0)" stroke-width="5.2"/>
<line x1="1597.5" y1="995" x2="1598.5" y2="998.9" stroke="rgb(242,22,0)" stroke-width="5.4"/>
<line x1="1598.5" y1="998.9" x2="1599.5" y2="1002.8" stroke="rgb(244,22,0)" stroke-width="5.6"/>
<line x1="1599.5" y1="1002.8" x2="1600.6" y2="1006.7" stroke="rgb(244,22,0)" stroke-width="6"/>
<line x1="1600.6" y1="1006.7" x2="1601.6" y2="1010.6" stroke="rgb(245,22,0)" stroke-width="6.5"/>
<line x1="1601.6" y1="1010.6" x2="1602.6" y2="1014.5" stroke="rgb(246,22,0)" stroke-width="6.9"/>
<line x1="1602.6" y1="1014.5" x2="1603.8" y2="1018.3" stroke="rgb(246,22,0)" stroke-width="7.3"/>
<line x1="1603.8" y1="1018.3" x2="1605.1" y2="1022.1" stroke="rgb(247,22,0)" stroke-width="7.8"/>
<line x1="1605.1" y1="1022.1" x2="1606.5" y2="1025.9" stroke="rgb(247,22,0)" stroke-width="8.2"/>
<line x1="1606.5" y1="1025.9" x2="1607.8" y2="1029.7" stroke="rgb(248,22,0)" stroke-width="8.6"/>
<line x1="1607.8" y1="1029.7" x2="1609.1" y2="1033.5" stroke="rgb(248,22,0)" stroke-width="9.1"/>
<line x1="1609.1" y1="1033.5" x2="1610.6" y2="1037.2" stroke="rgb(249,22,0)" stroke-width="9.5"/>
<line x1="1610.6" y1="1037.2" x2="1612.3" y2="1040.9" stroke="rgb(249,22,0)" stroke-width="9.9"/>
<line x1="1612.3" y1="1040.9" x2="1614" y2="1044.5" stroke="rgb(250,22,0)" stroke-width="10.3"/>
<line x1="1614" y1="1044.5" x2="1615.8" y2="1048.2" stroke="rgb(250,22,0)" stroke-width="10.7"/>
<line x1="1615.8" y1="1048.2" x2="1617.5" y2="1051.8" stroke="rgb(251,22,0)" stroke-width="11.1"/>
<line x1="1617.5" y1="1051.8" x2="1619.3" y2="1055.4" stroke="rgb(251,22,0)" stroke-width="11.6"/>
<line x1="1619.3" y1="1055.4" x2="1621.4" y2="1058.8" stroke="rgb(252,22,0)" stroke-width="12"/>
<line x1="1621.4" y1="1058.8" x2="1623.6" y2="1062.2" stroke="rgb(253,22,0)" stroke-width="12.3"/>
<line x1="1623.6" y1="1062.2" x2="1625.7" y2="1065.6" stroke="rgb(254,22,0)" stroke-width="12.7"/>
<line x1="1625.7" y1="1065.6" x2="1627.9" y2="1069" stroke="rgb(255,22,0)" stroke-width="13.1"/>
<line x1="1627.9" y1="1069" x2="1630.1" y2="1072.3" stroke="rgb(255,22,0)" stroke-width="13.5"/>
<line x1="1630.1" y1="1072.3" x2="1632.5" y2="1075.6" stroke="rgb(255,22,0)" stroke-width="13.9"/>
<line x1="1632.5" y1="1075.6" x2="1634.9" y2="1078.8" stroke="rgb(255,22,0)" stroke-width="14.1"/>
<line x1="1634.9" y1="1078.8" x2="1637.3" y2="1082" stroke="rgb(255,22,0)" stroke-width="14.2"/>
<line x1="1637.3" y1="1082" x2="1639.7" y2="1085.3" stroke="rgb(255,22,0)" stroke-width="14.3"/>
<line x1="1639.7" y1="1085.3" x2="1642.4" y2="1088.3" stroke="rgb(255,22,0)" stroke-width="14.4"/>
<line x1="1642.4" y1="1088.3" x2="1645.3" y2="1091" stroke="rgb(255,22,0)" stroke-width="14.4"/>
<line x1="1645.3" y1="1091" x2="1648.3" y2="1093.7" stroke="rgb(255,22,0)" stroke-width="14.5"/>
<line x1="1648.3" y1="1093.7" x2="1651.2" y2="1096.5" stroke="rgb(255,22,0)" stroke-width="14.6"/>
<line x1="1651.2" y1="1096.5" x2="1654.2" y2="1099.2" stroke="rgb(255,22,0)" stroke-width="14.7"/>
<line x1="1654.2" y1="1099.2" x2="1657.4" y2="1101.6" stroke="rgb(255,22,0)" stroke-width="14.8"/>
<line x1="1657.4" y1="1101.6" x2="1660.7" y2="1103.9" stroke="rgb(255,22,0)" stroke-width="14.8"/>
<line x1="1660.7" y1="1103.9" x2="1664" y2="1106.2" stroke="rgb(255,22,0)" stroke-width="14.9"/>
<line x1="1664" y1="1106.2" x2="1667.3" y2="1108.5" stroke="rgb(255,22,0)" stroke-width="15"/>
<line x1="1667.3" y1="1108.5" x2="1670.9" y2="1110.3" stroke="rgb(255,22,0)" stroke-width="15"/>
<line x1="1670.9" y1="1110.3" x2="1674.6" y2="1111.9" stroke="rgb(255,22,0)" stroke-width="15.1"/>
<line x1="1674.6" y1="1111.9" x2="1678.2" y2="1113.6" stroke="rgb(255,22,0)" stroke-width="15.1"/>
<line x1="1678.2" y1="1113.6" x2="1681.9" y2="1115.2" stroke="rgb(255,22,0)" stroke-width="15.2"/>
<line x1="1681.9" y1="1115.2" x2="1685.7" y2="1116.5" stroke="rgb(255,22,0)" stroke-width="15.2"/>
<line x1="1685.7" y1="1116.5" x2="1689.6" y2="1117.5" stroke="rgb(255,22,0)" stroke-width="15.3"/>
<line x1="1689.6" y1="1117.5" x2="1693.5" y2="1118.5" stroke="rgb(255,22,0)" stroke-width="15.3"/>
<line x1="1693.5" y1="1118.5" x2="1697.4" y2="1119.5" stroke="rgb(253,22,0)" stroke-width="15.2"/>
<line x1="1697.4" y1="1119.5" x2="1701.3" y2="1120.5" stroke="rgb(245,22,0)" stroke-width="14.4"/>
<line x1="1701.3" y1="1120.5" x2="1705.2" y2="1121.4" stroke="rgb(236,22,0)" stroke-width="13.7"/>
<line x1="1705.2" y1="1121.4" x2="1709.1" y2="1122.4" stroke="rgb(228,22,0)" stroke-width="13"/>
<line x1="1709.1" y1="1122.4" x2="1713.1" y2="1123" stroke="rgb(220,22,0)" stroke-width="12.3"/>
<line x1="1713.1" y1="1123" x2="1717.1" y2="1123.7" stroke="rgb(211,22,0)" stroke-width="11.5"/>
<line x1="1717.1" y1="1123.7" x2="1721" y2="1124.3" stroke="rgb(203,22,0)" stroke-width="10.8"/>
<line x1="1721" y1="1124.3" x2="1725" y2="1124.9" stroke="rgb(195,22,0)" stroke-width="10"/>
<line x1="1725" y1="1124.9" x2="1729" y2="1125.5" stroke="rgb(186,22,0)" stroke-width="9.3"/>
</g></g>
<rect x="353" y="670" width="1964" height="3" fill="#cfcfec"/>
<rect x="353" y="673" width="1964" height="1.6" fill="#5b5eae"/>
<rect x="353" y="670" width="1.8" height="470" fill="#aeb2e2" fill-opacity="0.85"/>
<rect x="2315.4" y="670" width="1.6" height="470" fill="#8f9ad8" fill-opacity="0.7"/>
</g>
<rect x="355" y="701.4" width="20" height="3.2" fill="#1b1b2a" fill-opacity="0.85"/>
<rect x="355" y="765.4" width="20" height="3.2" fill="#1b1b2a" fill-opacity="0.85"/>
<rect x="355" y="826.4" width="20" height="3.2" fill="#1b1b2a" fill-opacity="0.85"/>
<rect x="355" y="890.4" width="20" height="3.2" fill="#1b1b2a" fill-opacity="0.85"/>
<rect x="355" y="1014.4" width="20" height="3.2" fill="#1b1b2a" fill-opacity="0.85"/>
<rect x="355" y="1078.4" width="20" height="3.2" fill="#1b1b2a" fill-opacity="0.85"/>
<rect x="355" y="952.5" width="14" height="3" fill="#1b1b2a" fill-opacity="0.3"/>
<rect x="542" y="1123.5" width="2.8" height="10" fill="#1b1b2a" fill-opacity="0.9"/>
<rect x="937.6" y="1123.5" width="2.8" height="10" fill="#1b1b2a" fill-opacity="0.9"/>
<rect x="1333" y="1123.5" width="2.8" height="10" fill="#1b1b2a" fill-opacity="0.9"/>
<rect x="1726.6" y="1123.5" width="2.8" height="10" fill="#1b1b2a" fill-opacity="0.9"/>
<rect x="2122.6" y="1123.5" width="2.8" height="10" fill="#1b1b2a" fill-opacity="0.9"/>
<rect x="506" y="878.3" width="384.5" height="258" rx="10" ry="10" fill="none" stroke="#ee2b26" stroke-width="7.8"/>
<text x="356" y="644.6" font-size="56" text-anchor="start">(×10<tspan font-size="34.7" dy="-23.5">3</tspan><tspan dy="23.5">)</tspan></text>
<text x="329.5" y="742" font-size="56" text-anchor="end">5</text>
<text x="329.5" y="824" font-size="56" text-anchor="end">4</text>
<text x="329.5" y="908" font-size="56" text-anchor="end">3</text>
<text x="329.5" y="990.7" font-size="56" text-anchor="end">2</text>
<text x="329.5" y="1073" font-size="56" text-anchor="end">1</text>
<text x="329.5" y="1156" font-size="56" text-anchor="end">0</text>
<text x="537.6" y="1197.8" font-size="56" text-anchor="middle">0.4</text>
<text x="937.5" y="1197.8" font-size="56" text-anchor="middle">1.2</text>
<text x="1335" y="1197.8" font-size="56" text-anchor="middle">2.0</text>
<text x="1733" y="1197.8" font-size="56" text-anchor="middle">2.8</text>
<text x="2132.7" y="1197.8" font-size="56" text-anchor="middle">3.6</text>
<text transform="translate(268.7 905) rotate(-90)" font-size="56" text-anchor="middle">Frequency / Hz</text>
<rect x="2357" y="670" width="55" height="470.5" fill="url(#gcb)"/>
<text x="2349" y="640.4" font-size="56" text-anchor="start">Log.</text>
<text x="2430" y="691.4" font-size="56" text-anchor="start">−3</text>
<text x="2430" y="804.4" font-size="56" text-anchor="start">−4</text>
<text x="2430" y="918.4" font-size="56" text-anchor="start">−5</text>
<text x="2430" y="1030.4" font-size="56" text-anchor="start">−6</text>
<text x="2430" y="1145" font-size="56" text-anchor="start">−7</text>
<text transform="translate(2585.7 1140) rotate(-90)" font-size="56" text-anchor="start">PSD / (V·m<tspan font-size="34.7" dy="-21">−1</tspan><tspan dy="21">·Hz</tspan><tspan font-size="34.7" dy="-21">−1/2</tspan><tspan dy="21">)</tspan></text>
<g stroke="#dedede" stroke-width="3.4" stroke-dasharray="7 3.5" fill="none" filter="url(#soft)">
<line x1="600" y1="1253" x2="600" y2="1703"/>
<line x1="845" y1="1253" x2="845" y2="1703"/>
<line x1="1090" y1="1253" x2="1090" y2="1703"/>
<line x1="1336" y1="1253" x2="1336" y2="1703"/>
<line x1="1581" y1="1253" x2="1581" y2="1703"/>
<line x1="1828" y1="1253" x2="1828" y2="1703"/>
<line x1="2074" y1="1253" x2="2074" y2="1703"/>
<line x1="357" y1="1402.4" x2="2314" y2="1402.4"/>
<line x1="357" y1="1554.5" x2="2314" y2="1554.5"/>
</g>
<g filter="url(#soft)"><path fill="#43474f" fill-rule="evenodd" d="M349,1247H2321V1710H349Z M355.5,1252H2315V1704H355.5Z"/></g>
<rect x="598" y="1700" width="4" height="8" fill="#222"/>
<rect x="843" y="1700" width="4" height="8" fill="#222"/>
<rect x="1088" y="1700" width="4" height="8" fill="#222"/>
<rect x="1334" y="1700" width="4" height="8" fill="#222"/>
<rect x="1579" y="1700" width="4" height="8" fill="#222"/>
<rect x="1826" y="1700" width="4" height="8" fill="#222"/>
<rect x="2072" y="1700" width="4" height="8" fill="#222"/>
<rect x="349" y="1400.4" width="7.5" height="4" fill="#222"/>
<rect x="349" y="1552.5" width="7.5" height="4" fill="#222"/>
<rect x="511.4" y="1381.7" width="12.8" height="42.7" fill="#f6921e"/>
<rect x="573.3" y="1381.7" width="13.1" height="42.7" fill="#f6921e"/>
<rect x="707.8" y="1381.7" width="12.4" height="42.7" fill="#f6921e"/>
<rect x="1262.3" y="1381.7" width="13.1" height="42.7" fill="#f6921e"/>
<rect x="1557.7" y="1381.7" width="12" height="42.7" fill="#f6921e"/>
<rect x="511.4" y="1532.6" width="370" height="41.9" fill="#40488a"/>
<rect x="1262.3" y="1532.6" width="160.1" height="41.9" fill="#40488a"/>
<rect x="1557.7" y="1532.6" width="172.8" height="41.9" fill="#40488a"/>
<rect x="497.6" y="1361.8" width="391.2" height="229" rx="10" ry="10" fill="none" stroke="#ee2b26" stroke-width="7.8"/>
<text x="328.5" y="1423.6" font-size="56" text-anchor="end">1</text>
<text x="330" y="1566" font-size="56" text-anchor="end">2</text>
<text x="537.6" y="1766.5" font-size="56" text-anchor="middle">0.4</text>
<text x="937.5" y="1766.5" font-size="56" text-anchor="middle">1.2</text>
<text x="1335" y="1766.5" font-size="56" text-anchor="middle">2.0</text>
<text x="1733" y="1766.5" font-size="56" text-anchor="middle">2.8</text>
<text x="2132.7" y="1766.5" font-size="56" text-anchor="middle">3.6</text>
<text transform="translate(268.7 1478) rotate(-90)" font-size="56" text-anchor="middle">Event</text>
<text x="1337" y="1828.8" font-size="56" text-anchor="middle">Time / s</text>
</svg></body></html>
